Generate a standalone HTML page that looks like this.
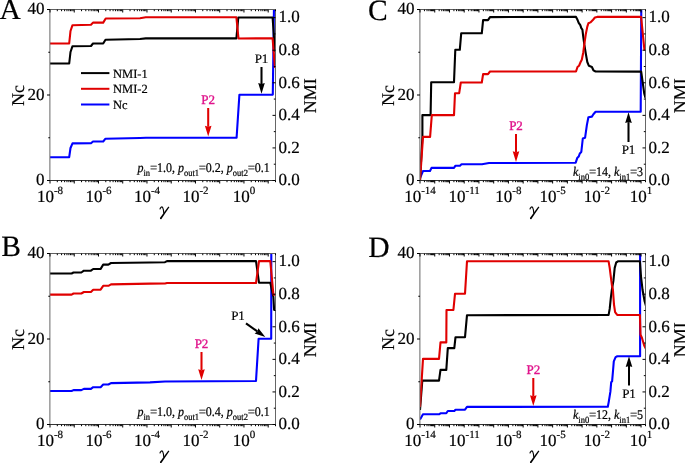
<!DOCTYPE html>
<html><head><meta charset="utf-8"><style>
html,body{margin:0;padding:0;background:#fff;}
svg{display:block;}
#w{width:685px;height:463px;overflow:hidden;will-change:transform;}
text{font-family:"Liberation Serif",serif;stroke:#000;stroke-width:0.2px;text-rendering:geometricPrecision;}
text.mag{stroke:#e0158c;stroke-width:0.35px;}
.eq{fill:#7a7a7a;stroke:#7a7a7a;stroke-width:0.6px;}
</style></head><body><div id="w">
<svg width="685" height="463" viewBox="0 0 685 463" font-family="Liberation Serif">
<rect width="685" height="463" fill="#fff"/>
<clipPath id="cA"><rect x="50" y="9.0" width="226.0" height="171.5"/></clipPath>
<polyline points="50.00,157.20 69.20,157.20 70.50,148.00 72.50,143.40 91.00,143.20 93.00,141.50 103.20,141.50 105.50,138.70 140.00,138.00 146.00,137.80 236.60,137.80 239.40,94.80 272.80,94.60 274.00,5.00" fill="none" stroke="#0000ff" stroke-width="2.1" stroke-linejoin="round" clip-path="url(#cA)"/>
<polyline points="50.00,63.50 69.20,63.50 70.50,52.00 72.50,46.20 91.00,46.00 93.00,43.50 103.20,43.50 105.50,39.80 140.00,39.00 145.80,38.40 236.40,38.40 238.30,17.50 272.60,17.50 275.00,52.00" fill="none" stroke="#000" stroke-width="2.1" stroke-linejoin="round" clip-path="url(#cA)"/>
<polyline points="50.00,43.50 69.20,43.50 70.50,31.00 72.50,25.20 91.00,24.80 93.00,22.60 103.20,22.60 105.70,18.50 140.00,18.20 145.80,17.30 236.40,17.30 238.50,38.50 272.60,38.30 275.00,68.00" fill="none" stroke="#e00000" stroke-width="2.1" stroke-linejoin="round" clip-path="url(#cA)"/>
<line x1="47.00" y1="9.50" x2="276.00" y2="9.50" stroke="#606060" stroke-width="1"/>
<line x1="47.00" y1="180.50" x2="276.00" y2="180.50" stroke="#333" stroke-width="1"/>
<line x1="49.90" y1="9.50" x2="49.90" y2="180.50" stroke="#666" stroke-width="1"/>
<line x1="275.50" y1="9.50" x2="275.50" y2="181.00" stroke="#666" stroke-width="1"/>
<line x1="50.00" y1="180.50" x2="50.00" y2="183.50" stroke="#000" stroke-width="1"/>
<line x1="50.00" y1="9.50" x2="50.00" y2="12.50" stroke="#000" stroke-width="1"/>
<line x1="57.30" y1="180.50" x2="57.30" y2="182.20" stroke="#000" stroke-width="1"/>
<line x1="57.30" y1="9.50" x2="57.30" y2="11.20" stroke="#000" stroke-width="1"/>
<line x1="61.57" y1="180.50" x2="61.57" y2="182.20" stroke="#000" stroke-width="1"/>
<line x1="61.57" y1="9.50" x2="61.57" y2="11.20" stroke="#000" stroke-width="1"/>
<line x1="64.60" y1="180.50" x2="64.60" y2="182.20" stroke="#000" stroke-width="1"/>
<line x1="64.60" y1="9.50" x2="64.60" y2="11.20" stroke="#000" stroke-width="1"/>
<line x1="66.95" y1="180.50" x2="66.95" y2="182.20" stroke="#000" stroke-width="1"/>
<line x1="66.95" y1="9.50" x2="66.95" y2="11.20" stroke="#000" stroke-width="1"/>
<line x1="68.87" y1="180.50" x2="68.87" y2="182.20" stroke="#000" stroke-width="1"/>
<line x1="68.87" y1="9.50" x2="68.87" y2="11.20" stroke="#000" stroke-width="1"/>
<line x1="70.49" y1="180.50" x2="70.49" y2="182.20" stroke="#000" stroke-width="1"/>
<line x1="70.49" y1="9.50" x2="70.49" y2="11.20" stroke="#000" stroke-width="1"/>
<line x1="71.90" y1="180.50" x2="71.90" y2="182.20" stroke="#000" stroke-width="1"/>
<line x1="71.90" y1="9.50" x2="71.90" y2="11.20" stroke="#000" stroke-width="1"/>
<line x1="73.14" y1="180.50" x2="73.14" y2="182.20" stroke="#000" stroke-width="1"/>
<line x1="73.14" y1="9.50" x2="73.14" y2="11.20" stroke="#000" stroke-width="1"/>
<line x1="74.24" y1="180.50" x2="74.24" y2="183.50" stroke="#000" stroke-width="1"/>
<line x1="74.24" y1="9.50" x2="74.24" y2="12.50" stroke="#000" stroke-width="1"/>
<line x1="81.54" y1="180.50" x2="81.54" y2="182.20" stroke="#000" stroke-width="1"/>
<line x1="81.54" y1="9.50" x2="81.54" y2="11.20" stroke="#000" stroke-width="1"/>
<line x1="85.81" y1="180.50" x2="85.81" y2="182.20" stroke="#000" stroke-width="1"/>
<line x1="85.81" y1="9.50" x2="85.81" y2="11.20" stroke="#000" stroke-width="1"/>
<line x1="88.84" y1="180.50" x2="88.84" y2="182.20" stroke="#000" stroke-width="1"/>
<line x1="88.84" y1="9.50" x2="88.84" y2="11.20" stroke="#000" stroke-width="1"/>
<line x1="91.19" y1="180.50" x2="91.19" y2="182.20" stroke="#000" stroke-width="1"/>
<line x1="91.19" y1="9.50" x2="91.19" y2="11.20" stroke="#000" stroke-width="1"/>
<line x1="93.11" y1="180.50" x2="93.11" y2="182.20" stroke="#000" stroke-width="1"/>
<line x1="93.11" y1="9.50" x2="93.11" y2="11.20" stroke="#000" stroke-width="1"/>
<line x1="94.73" y1="180.50" x2="94.73" y2="182.20" stroke="#000" stroke-width="1"/>
<line x1="94.73" y1="9.50" x2="94.73" y2="11.20" stroke="#000" stroke-width="1"/>
<line x1="96.14" y1="180.50" x2="96.14" y2="182.20" stroke="#000" stroke-width="1"/>
<line x1="96.14" y1="9.50" x2="96.14" y2="11.20" stroke="#000" stroke-width="1"/>
<line x1="97.38" y1="180.50" x2="97.38" y2="182.20" stroke="#000" stroke-width="1"/>
<line x1="97.38" y1="9.50" x2="97.38" y2="11.20" stroke="#000" stroke-width="1"/>
<line x1="98.49" y1="180.50" x2="98.49" y2="183.50" stroke="#000" stroke-width="1"/>
<line x1="98.49" y1="9.50" x2="98.49" y2="12.50" stroke="#000" stroke-width="1"/>
<line x1="105.79" y1="180.50" x2="105.79" y2="182.20" stroke="#000" stroke-width="1"/>
<line x1="105.79" y1="9.50" x2="105.79" y2="11.20" stroke="#000" stroke-width="1"/>
<line x1="110.06" y1="180.50" x2="110.06" y2="182.20" stroke="#000" stroke-width="1"/>
<line x1="110.06" y1="9.50" x2="110.06" y2="11.20" stroke="#000" stroke-width="1"/>
<line x1="113.09" y1="180.50" x2="113.09" y2="182.20" stroke="#000" stroke-width="1"/>
<line x1="113.09" y1="9.50" x2="113.09" y2="11.20" stroke="#000" stroke-width="1"/>
<line x1="115.44" y1="180.50" x2="115.44" y2="182.20" stroke="#000" stroke-width="1"/>
<line x1="115.44" y1="9.50" x2="115.44" y2="11.20" stroke="#000" stroke-width="1"/>
<line x1="117.36" y1="180.50" x2="117.36" y2="182.20" stroke="#000" stroke-width="1"/>
<line x1="117.36" y1="9.50" x2="117.36" y2="11.20" stroke="#000" stroke-width="1"/>
<line x1="118.98" y1="180.50" x2="118.98" y2="182.20" stroke="#000" stroke-width="1"/>
<line x1="118.98" y1="9.50" x2="118.98" y2="11.20" stroke="#000" stroke-width="1"/>
<line x1="120.38" y1="180.50" x2="120.38" y2="182.20" stroke="#000" stroke-width="1"/>
<line x1="120.38" y1="9.50" x2="120.38" y2="11.20" stroke="#000" stroke-width="1"/>
<line x1="121.62" y1="180.50" x2="121.62" y2="182.20" stroke="#000" stroke-width="1"/>
<line x1="121.62" y1="9.50" x2="121.62" y2="11.20" stroke="#000" stroke-width="1"/>
<line x1="122.73" y1="180.50" x2="122.73" y2="183.50" stroke="#000" stroke-width="1"/>
<line x1="122.73" y1="9.50" x2="122.73" y2="12.50" stroke="#000" stroke-width="1"/>
<line x1="130.03" y1="180.50" x2="130.03" y2="182.20" stroke="#000" stroke-width="1"/>
<line x1="130.03" y1="9.50" x2="130.03" y2="11.20" stroke="#000" stroke-width="1"/>
<line x1="134.30" y1="180.50" x2="134.30" y2="182.20" stroke="#000" stroke-width="1"/>
<line x1="134.30" y1="9.50" x2="134.30" y2="11.20" stroke="#000" stroke-width="1"/>
<line x1="137.33" y1="180.50" x2="137.33" y2="182.20" stroke="#000" stroke-width="1"/>
<line x1="137.33" y1="9.50" x2="137.33" y2="11.20" stroke="#000" stroke-width="1"/>
<line x1="139.68" y1="180.50" x2="139.68" y2="182.20" stroke="#000" stroke-width="1"/>
<line x1="139.68" y1="9.50" x2="139.68" y2="11.20" stroke="#000" stroke-width="1"/>
<line x1="141.60" y1="180.50" x2="141.60" y2="182.20" stroke="#000" stroke-width="1"/>
<line x1="141.60" y1="9.50" x2="141.60" y2="11.20" stroke="#000" stroke-width="1"/>
<line x1="143.22" y1="180.50" x2="143.22" y2="182.20" stroke="#000" stroke-width="1"/>
<line x1="143.22" y1="9.50" x2="143.22" y2="11.20" stroke="#000" stroke-width="1"/>
<line x1="144.63" y1="180.50" x2="144.63" y2="182.20" stroke="#000" stroke-width="1"/>
<line x1="144.63" y1="9.50" x2="144.63" y2="11.20" stroke="#000" stroke-width="1"/>
<line x1="145.87" y1="180.50" x2="145.87" y2="182.20" stroke="#000" stroke-width="1"/>
<line x1="145.87" y1="9.50" x2="145.87" y2="11.20" stroke="#000" stroke-width="1"/>
<line x1="146.98" y1="180.50" x2="146.98" y2="183.50" stroke="#000" stroke-width="1"/>
<line x1="146.98" y1="9.50" x2="146.98" y2="12.50" stroke="#000" stroke-width="1"/>
<line x1="154.28" y1="180.50" x2="154.28" y2="182.20" stroke="#000" stroke-width="1"/>
<line x1="154.28" y1="9.50" x2="154.28" y2="11.20" stroke="#000" stroke-width="1"/>
<line x1="158.55" y1="180.50" x2="158.55" y2="182.20" stroke="#000" stroke-width="1"/>
<line x1="158.55" y1="9.50" x2="158.55" y2="11.20" stroke="#000" stroke-width="1"/>
<line x1="161.58" y1="180.50" x2="161.58" y2="182.20" stroke="#000" stroke-width="1"/>
<line x1="161.58" y1="9.50" x2="161.58" y2="11.20" stroke="#000" stroke-width="1"/>
<line x1="163.92" y1="180.50" x2="163.92" y2="182.20" stroke="#000" stroke-width="1"/>
<line x1="163.92" y1="9.50" x2="163.92" y2="11.20" stroke="#000" stroke-width="1"/>
<line x1="165.84" y1="180.50" x2="165.84" y2="182.20" stroke="#000" stroke-width="1"/>
<line x1="165.84" y1="9.50" x2="165.84" y2="11.20" stroke="#000" stroke-width="1"/>
<line x1="167.47" y1="180.50" x2="167.47" y2="182.20" stroke="#000" stroke-width="1"/>
<line x1="167.47" y1="9.50" x2="167.47" y2="11.20" stroke="#000" stroke-width="1"/>
<line x1="168.87" y1="180.50" x2="168.87" y2="182.20" stroke="#000" stroke-width="1"/>
<line x1="168.87" y1="9.50" x2="168.87" y2="11.20" stroke="#000" stroke-width="1"/>
<line x1="170.11" y1="180.50" x2="170.11" y2="182.20" stroke="#000" stroke-width="1"/>
<line x1="170.11" y1="9.50" x2="170.11" y2="11.20" stroke="#000" stroke-width="1"/>
<line x1="171.22" y1="180.50" x2="171.22" y2="183.50" stroke="#000" stroke-width="1"/>
<line x1="171.22" y1="9.50" x2="171.22" y2="12.50" stroke="#000" stroke-width="1"/>
<line x1="178.52" y1="180.50" x2="178.52" y2="182.20" stroke="#000" stroke-width="1"/>
<line x1="178.52" y1="9.50" x2="178.52" y2="11.20" stroke="#000" stroke-width="1"/>
<line x1="182.79" y1="180.50" x2="182.79" y2="182.20" stroke="#000" stroke-width="1"/>
<line x1="182.79" y1="9.50" x2="182.79" y2="11.20" stroke="#000" stroke-width="1"/>
<line x1="185.82" y1="180.50" x2="185.82" y2="182.20" stroke="#000" stroke-width="1"/>
<line x1="185.82" y1="9.50" x2="185.82" y2="11.20" stroke="#000" stroke-width="1"/>
<line x1="188.17" y1="180.50" x2="188.17" y2="182.20" stroke="#000" stroke-width="1"/>
<line x1="188.17" y1="9.50" x2="188.17" y2="11.20" stroke="#000" stroke-width="1"/>
<line x1="190.09" y1="180.50" x2="190.09" y2="182.20" stroke="#000" stroke-width="1"/>
<line x1="190.09" y1="9.50" x2="190.09" y2="11.20" stroke="#000" stroke-width="1"/>
<line x1="191.71" y1="180.50" x2="191.71" y2="182.20" stroke="#000" stroke-width="1"/>
<line x1="191.71" y1="9.50" x2="191.71" y2="11.20" stroke="#000" stroke-width="1"/>
<line x1="193.12" y1="180.50" x2="193.12" y2="182.20" stroke="#000" stroke-width="1"/>
<line x1="193.12" y1="9.50" x2="193.12" y2="11.20" stroke="#000" stroke-width="1"/>
<line x1="194.36" y1="180.50" x2="194.36" y2="182.20" stroke="#000" stroke-width="1"/>
<line x1="194.36" y1="9.50" x2="194.36" y2="11.20" stroke="#000" stroke-width="1"/>
<line x1="195.47" y1="180.50" x2="195.47" y2="183.50" stroke="#000" stroke-width="1"/>
<line x1="195.47" y1="9.50" x2="195.47" y2="12.50" stroke="#000" stroke-width="1"/>
<line x1="202.77" y1="180.50" x2="202.77" y2="182.20" stroke="#000" stroke-width="1"/>
<line x1="202.77" y1="9.50" x2="202.77" y2="11.20" stroke="#000" stroke-width="1"/>
<line x1="207.04" y1="180.50" x2="207.04" y2="182.20" stroke="#000" stroke-width="1"/>
<line x1="207.04" y1="9.50" x2="207.04" y2="11.20" stroke="#000" stroke-width="1"/>
<line x1="210.06" y1="180.50" x2="210.06" y2="182.20" stroke="#000" stroke-width="1"/>
<line x1="210.06" y1="9.50" x2="210.06" y2="11.20" stroke="#000" stroke-width="1"/>
<line x1="212.41" y1="180.50" x2="212.41" y2="182.20" stroke="#000" stroke-width="1"/>
<line x1="212.41" y1="9.50" x2="212.41" y2="11.20" stroke="#000" stroke-width="1"/>
<line x1="214.33" y1="180.50" x2="214.33" y2="182.20" stroke="#000" stroke-width="1"/>
<line x1="214.33" y1="9.50" x2="214.33" y2="11.20" stroke="#000" stroke-width="1"/>
<line x1="215.96" y1="180.50" x2="215.96" y2="182.20" stroke="#000" stroke-width="1"/>
<line x1="215.96" y1="9.50" x2="215.96" y2="11.20" stroke="#000" stroke-width="1"/>
<line x1="217.36" y1="180.50" x2="217.36" y2="182.20" stroke="#000" stroke-width="1"/>
<line x1="217.36" y1="9.50" x2="217.36" y2="11.20" stroke="#000" stroke-width="1"/>
<line x1="218.60" y1="180.50" x2="218.60" y2="182.20" stroke="#000" stroke-width="1"/>
<line x1="218.60" y1="9.50" x2="218.60" y2="11.20" stroke="#000" stroke-width="1"/>
<line x1="219.71" y1="180.50" x2="219.71" y2="183.50" stroke="#000" stroke-width="1"/>
<line x1="219.71" y1="9.50" x2="219.71" y2="12.50" stroke="#000" stroke-width="1"/>
<line x1="227.01" y1="180.50" x2="227.01" y2="182.20" stroke="#000" stroke-width="1"/>
<line x1="227.01" y1="9.50" x2="227.01" y2="11.20" stroke="#000" stroke-width="1"/>
<line x1="231.28" y1="180.50" x2="231.28" y2="182.20" stroke="#000" stroke-width="1"/>
<line x1="231.28" y1="9.50" x2="231.28" y2="11.20" stroke="#000" stroke-width="1"/>
<line x1="234.31" y1="180.50" x2="234.31" y2="182.20" stroke="#000" stroke-width="1"/>
<line x1="234.31" y1="9.50" x2="234.31" y2="11.20" stroke="#000" stroke-width="1"/>
<line x1="236.66" y1="180.50" x2="236.66" y2="182.20" stroke="#000" stroke-width="1"/>
<line x1="236.66" y1="9.50" x2="236.66" y2="11.20" stroke="#000" stroke-width="1"/>
<line x1="238.58" y1="180.50" x2="238.58" y2="182.20" stroke="#000" stroke-width="1"/>
<line x1="238.58" y1="9.50" x2="238.58" y2="11.20" stroke="#000" stroke-width="1"/>
<line x1="240.20" y1="180.50" x2="240.20" y2="182.20" stroke="#000" stroke-width="1"/>
<line x1="240.20" y1="9.50" x2="240.20" y2="11.20" stroke="#000" stroke-width="1"/>
<line x1="241.61" y1="180.50" x2="241.61" y2="182.20" stroke="#000" stroke-width="1"/>
<line x1="241.61" y1="9.50" x2="241.61" y2="11.20" stroke="#000" stroke-width="1"/>
<line x1="242.85" y1="180.50" x2="242.85" y2="182.20" stroke="#000" stroke-width="1"/>
<line x1="242.85" y1="9.50" x2="242.85" y2="11.20" stroke="#000" stroke-width="1"/>
<line x1="243.96" y1="180.50" x2="243.96" y2="183.50" stroke="#000" stroke-width="1"/>
<line x1="243.96" y1="9.50" x2="243.96" y2="12.50" stroke="#000" stroke-width="1"/>
<line x1="251.26" y1="180.50" x2="251.26" y2="182.20" stroke="#000" stroke-width="1"/>
<line x1="251.26" y1="9.50" x2="251.26" y2="11.20" stroke="#000" stroke-width="1"/>
<line x1="255.52" y1="180.50" x2="255.52" y2="182.20" stroke="#000" stroke-width="1"/>
<line x1="255.52" y1="9.50" x2="255.52" y2="11.20" stroke="#000" stroke-width="1"/>
<line x1="258.55" y1="180.50" x2="258.55" y2="182.20" stroke="#000" stroke-width="1"/>
<line x1="258.55" y1="9.50" x2="258.55" y2="11.20" stroke="#000" stroke-width="1"/>
<line x1="260.90" y1="180.50" x2="260.90" y2="182.20" stroke="#000" stroke-width="1"/>
<line x1="260.90" y1="9.50" x2="260.90" y2="11.20" stroke="#000" stroke-width="1"/>
<line x1="262.82" y1="180.50" x2="262.82" y2="182.20" stroke="#000" stroke-width="1"/>
<line x1="262.82" y1="9.50" x2="262.82" y2="11.20" stroke="#000" stroke-width="1"/>
<line x1="264.45" y1="180.50" x2="264.45" y2="182.20" stroke="#000" stroke-width="1"/>
<line x1="264.45" y1="9.50" x2="264.45" y2="11.20" stroke="#000" stroke-width="1"/>
<line x1="265.85" y1="180.50" x2="265.85" y2="182.20" stroke="#000" stroke-width="1"/>
<line x1="265.85" y1="9.50" x2="265.85" y2="11.20" stroke="#000" stroke-width="1"/>
<line x1="267.09" y1="180.50" x2="267.09" y2="182.20" stroke="#000" stroke-width="1"/>
<line x1="267.09" y1="9.50" x2="267.09" y2="11.20" stroke="#000" stroke-width="1"/>
<line x1="268.20" y1="180.50" x2="268.20" y2="183.50" stroke="#000" stroke-width="1"/>
<line x1="268.20" y1="9.50" x2="268.20" y2="12.50" stroke="#000" stroke-width="1"/>
<line x1="275.50" y1="180.50" x2="275.50" y2="182.20" stroke="#000" stroke-width="1"/>
<line x1="275.50" y1="9.50" x2="275.50" y2="11.20" stroke="#000" stroke-width="1"/>
<line x1="47.00" y1="180.50" x2="50.00" y2="180.50" stroke="#000" stroke-width="1"/>
<line x1="48.30" y1="137.75" x2="50.00" y2="137.75" stroke="#000" stroke-width="1"/>
<line x1="47.00" y1="95.00" x2="50.00" y2="95.00" stroke="#000" stroke-width="1"/>
<line x1="48.30" y1="52.25" x2="50.00" y2="52.25" stroke="#000" stroke-width="1"/>
<line x1="47.00" y1="9.50" x2="50.00" y2="9.50" stroke="#000" stroke-width="1"/>
<line x1="272.50" y1="180.50" x2="275.50" y2="180.50" stroke="#000" stroke-width="1"/>
<line x1="273.80" y1="164.21" x2="275.50" y2="164.21" stroke="#000" stroke-width="1"/>
<line x1="272.50" y1="147.93" x2="275.50" y2="147.93" stroke="#000" stroke-width="1"/>
<line x1="273.80" y1="131.64" x2="275.50" y2="131.64" stroke="#000" stroke-width="1"/>
<line x1="272.50" y1="115.36" x2="275.50" y2="115.36" stroke="#000" stroke-width="1"/>
<line x1="273.80" y1="99.07" x2="275.50" y2="99.07" stroke="#000" stroke-width="1"/>
<line x1="272.50" y1="82.79" x2="275.50" y2="82.79" stroke="#000" stroke-width="1"/>
<line x1="273.80" y1="66.50" x2="275.50" y2="66.50" stroke="#000" stroke-width="1"/>
<line x1="272.50" y1="50.21" x2="275.50" y2="50.21" stroke="#000" stroke-width="1"/>
<line x1="273.80" y1="33.93" x2="275.50" y2="33.93" stroke="#000" stroke-width="1"/>
<line x1="272.50" y1="17.64" x2="275.50" y2="17.64" stroke="#000" stroke-width="1"/>
<text x="50.00" y="202.20" font-size="17" text-anchor="middle">10<tspan font-size="11" dy="-8.1">-8</tspan></text>
<text x="98.49" y="202.20" font-size="17" text-anchor="middle">10<tspan font-size="11" dy="-8.1">-6</tspan></text>
<text x="146.98" y="202.20" font-size="17" text-anchor="middle">10<tspan font-size="11" dy="-8.1">-4</tspan></text>
<text x="195.47" y="202.20" font-size="17" text-anchor="middle">10<tspan font-size="11" dy="-8.1">-2</tspan></text>
<text x="243.96" y="202.20" font-size="17" text-anchor="middle">10<tspan font-size="11" dy="-8.1">0</tspan></text>
<text x="44.50" y="185.30" font-size="17" text-anchor="end" fill="#000" >0</text>
<text x="44.50" y="99.80" font-size="17" text-anchor="end" fill="#000" >20</text>
<text x="44.50" y="14.30" font-size="17" text-anchor="end" fill="#000" >40</text>
<text x="278.50" y="185.30" font-size="17" text-anchor="start" fill="#000" >0.0</text>
<text x="278.50" y="152.73" font-size="17" text-anchor="start" fill="#000" >0.2</text>
<text x="278.50" y="120.16" font-size="17" text-anchor="start" fill="#000" >0.4</text>
<text x="278.50" y="87.59" font-size="17" text-anchor="start" fill="#000" >0.6</text>
<text x="278.50" y="55.01" font-size="17" text-anchor="start" fill="#000" >0.8</text>
<text x="278.50" y="22.44" font-size="17" text-anchor="start" fill="#000" >1.0</text>
<g transform="translate(0.05,0.00)"><polygon points="168.3,206.5 169.3,207.2 162.2,217.8 161.2,219.2 159.9,219.0 160.2,217.5" fill="#000"/><path d="M159.8,209.3 C160.3,207.2 161.8,206.3 162.6,207.5 C163.3,208.8 163.6,211 163.8,213.5" stroke="#000" stroke-width="1.1" fill="none"/></g>
<text transform="translate(24.00,95.45) rotate(-90)" font-size="18" text-anchor="middle">Nc</text>
<text transform="translate(315.80,95.85) rotate(-90)" font-size="18" text-anchor="middle">NMI</text>
<text x="-0.40" y="19.00" font-size="29.5" text-anchor="start" fill="#000" >A</text>
<text x="137.50" y="172.20" font-size="12" transform="matrix(1 0 0 1.1100 0 -18.942)"><tspan font-style="italic">p</tspan><tspan font-size="8.5" dy="3.5">in</tspan><tspan dy="-3.5" class="eq">=</tspan><tspan>1.0, </tspan><tspan font-style="italic">p</tspan><tspan font-size="8.5" dy="3.5">out1</tspan><tspan dy="-3.5" class="eq">=</tspan><tspan>0.2, </tspan><tspan font-style="italic">p</tspan><tspan font-size="8.5" dy="3.5">out2</tspan><tspan dy="-3.5" class="eq">=</tspan><tspan>0.1</tspan></text>
<text x="208.20" y="104.00" font-size="13" text-anchor="middle" fill="#e0158c" class="mag">P2</text>
<line x1="208.20" y1="108.00" x2="208.20" y2="126.80" stroke="#e00000" stroke-width="2.05"/>
<polygon points="208.20,136.60 204.90,125.80 208.20,126.80 211.50,125.80" fill="#e00000"/>
<text x="261.50" y="62.50" font-size="13" text-anchor="middle" fill="#000" >P1</text>
<line x1="261.50" y1="67.00" x2="261.50" y2="84.00" stroke="#000" stroke-width="2.05"/>
<polygon points="261.50,93.80 258.20,83.00 261.50,84.00 264.80,83.00" fill="#000"/>
<clipPath id="cB"><rect x="50" y="253.0" width="226.0" height="171.5"/></clipPath>
<polyline points="50.00,391.00 71.60,391.00 73.50,390.10 81.30,390.10 83.90,388.90 90.90,388.90 93.20,387.20 100.60,387.20 103.20,384.50 108.40,384.50 111.00,383.10 150.00,382.40 165.00,381.50 256.00,381.00 258.60,338.70 271.20,338.70 271.30,250.00" fill="none" stroke="#0000ff" stroke-width="2.1" stroke-linejoin="round" clip-path="url(#cB)"/>
<polyline points="50.00,273.50 71.60,273.50 73.50,272.50 81.30,272.50 83.90,270.70 90.90,270.70 93.20,269.00 100.60,269.00 103.20,264.60 108.40,264.60 111.00,263.00 149.60,262.50 165.00,262.20 167.00,261.10 256.00,261.10 259.00,282.70 270.30,282.70 273.40,297.00 274.10,309.80 276.00,309.80" fill="none" stroke="#000" stroke-width="2.1" stroke-linejoin="round" clip-path="url(#cB)"/>
<polyline points="50.00,294.60 71.60,294.60 73.50,293.50 81.30,293.50 83.90,292.00 90.90,292.00 93.20,289.70 100.60,289.70 103.20,285.80 108.40,285.80 111.00,284.40 150.00,283.60 165.00,283.50 167.00,283.00 256.00,283.00 259.00,261.10 270.30,261.10 273.40,294.70 276.00,294.70" fill="none" stroke="#e00000" stroke-width="2.1" stroke-linejoin="round" clip-path="url(#cB)"/>
<line x1="47.00" y1="253.50" x2="276.00" y2="253.50" stroke="#606060" stroke-width="1"/>
<line x1="47.00" y1="424.50" x2="276.00" y2="424.50" stroke="#333" stroke-width="1"/>
<line x1="49.90" y1="253.50" x2="49.90" y2="424.50" stroke="#666" stroke-width="1"/>
<line x1="275.50" y1="253.50" x2="275.50" y2="425.00" stroke="#666" stroke-width="1"/>
<line x1="50.00" y1="424.50" x2="50.00" y2="427.50" stroke="#000" stroke-width="1"/>
<line x1="50.00" y1="253.50" x2="50.00" y2="256.50" stroke="#000" stroke-width="1"/>
<line x1="57.30" y1="424.50" x2="57.30" y2="426.20" stroke="#000" stroke-width="1"/>
<line x1="57.30" y1="253.50" x2="57.30" y2="255.20" stroke="#000" stroke-width="1"/>
<line x1="61.57" y1="424.50" x2="61.57" y2="426.20" stroke="#000" stroke-width="1"/>
<line x1="61.57" y1="253.50" x2="61.57" y2="255.20" stroke="#000" stroke-width="1"/>
<line x1="64.60" y1="424.50" x2="64.60" y2="426.20" stroke="#000" stroke-width="1"/>
<line x1="64.60" y1="253.50" x2="64.60" y2="255.20" stroke="#000" stroke-width="1"/>
<line x1="66.95" y1="424.50" x2="66.95" y2="426.20" stroke="#000" stroke-width="1"/>
<line x1="66.95" y1="253.50" x2="66.95" y2="255.20" stroke="#000" stroke-width="1"/>
<line x1="68.87" y1="424.50" x2="68.87" y2="426.20" stroke="#000" stroke-width="1"/>
<line x1="68.87" y1="253.50" x2="68.87" y2="255.20" stroke="#000" stroke-width="1"/>
<line x1="70.49" y1="424.50" x2="70.49" y2="426.20" stroke="#000" stroke-width="1"/>
<line x1="70.49" y1="253.50" x2="70.49" y2="255.20" stroke="#000" stroke-width="1"/>
<line x1="71.90" y1="424.50" x2="71.90" y2="426.20" stroke="#000" stroke-width="1"/>
<line x1="71.90" y1="253.50" x2="71.90" y2="255.20" stroke="#000" stroke-width="1"/>
<line x1="73.14" y1="424.50" x2="73.14" y2="426.20" stroke="#000" stroke-width="1"/>
<line x1="73.14" y1="253.50" x2="73.14" y2="255.20" stroke="#000" stroke-width="1"/>
<line x1="74.24" y1="424.50" x2="74.24" y2="427.50" stroke="#000" stroke-width="1"/>
<line x1="74.24" y1="253.50" x2="74.24" y2="256.50" stroke="#000" stroke-width="1"/>
<line x1="81.54" y1="424.50" x2="81.54" y2="426.20" stroke="#000" stroke-width="1"/>
<line x1="81.54" y1="253.50" x2="81.54" y2="255.20" stroke="#000" stroke-width="1"/>
<line x1="85.81" y1="424.50" x2="85.81" y2="426.20" stroke="#000" stroke-width="1"/>
<line x1="85.81" y1="253.50" x2="85.81" y2="255.20" stroke="#000" stroke-width="1"/>
<line x1="88.84" y1="424.50" x2="88.84" y2="426.20" stroke="#000" stroke-width="1"/>
<line x1="88.84" y1="253.50" x2="88.84" y2="255.20" stroke="#000" stroke-width="1"/>
<line x1="91.19" y1="424.50" x2="91.19" y2="426.20" stroke="#000" stroke-width="1"/>
<line x1="91.19" y1="253.50" x2="91.19" y2="255.20" stroke="#000" stroke-width="1"/>
<line x1="93.11" y1="424.50" x2="93.11" y2="426.20" stroke="#000" stroke-width="1"/>
<line x1="93.11" y1="253.50" x2="93.11" y2="255.20" stroke="#000" stroke-width="1"/>
<line x1="94.73" y1="424.50" x2="94.73" y2="426.20" stroke="#000" stroke-width="1"/>
<line x1="94.73" y1="253.50" x2="94.73" y2="255.20" stroke="#000" stroke-width="1"/>
<line x1="96.14" y1="424.50" x2="96.14" y2="426.20" stroke="#000" stroke-width="1"/>
<line x1="96.14" y1="253.50" x2="96.14" y2="255.20" stroke="#000" stroke-width="1"/>
<line x1="97.38" y1="424.50" x2="97.38" y2="426.20" stroke="#000" stroke-width="1"/>
<line x1="97.38" y1="253.50" x2="97.38" y2="255.20" stroke="#000" stroke-width="1"/>
<line x1="98.49" y1="424.50" x2="98.49" y2="427.50" stroke="#000" stroke-width="1"/>
<line x1="98.49" y1="253.50" x2="98.49" y2="256.50" stroke="#000" stroke-width="1"/>
<line x1="105.79" y1="424.50" x2="105.79" y2="426.20" stroke="#000" stroke-width="1"/>
<line x1="105.79" y1="253.50" x2="105.79" y2="255.20" stroke="#000" stroke-width="1"/>
<line x1="110.06" y1="424.50" x2="110.06" y2="426.20" stroke="#000" stroke-width="1"/>
<line x1="110.06" y1="253.50" x2="110.06" y2="255.20" stroke="#000" stroke-width="1"/>
<line x1="113.09" y1="424.50" x2="113.09" y2="426.20" stroke="#000" stroke-width="1"/>
<line x1="113.09" y1="253.50" x2="113.09" y2="255.20" stroke="#000" stroke-width="1"/>
<line x1="115.44" y1="424.50" x2="115.44" y2="426.20" stroke="#000" stroke-width="1"/>
<line x1="115.44" y1="253.50" x2="115.44" y2="255.20" stroke="#000" stroke-width="1"/>
<line x1="117.36" y1="424.50" x2="117.36" y2="426.20" stroke="#000" stroke-width="1"/>
<line x1="117.36" y1="253.50" x2="117.36" y2="255.20" stroke="#000" stroke-width="1"/>
<line x1="118.98" y1="424.50" x2="118.98" y2="426.20" stroke="#000" stroke-width="1"/>
<line x1="118.98" y1="253.50" x2="118.98" y2="255.20" stroke="#000" stroke-width="1"/>
<line x1="120.38" y1="424.50" x2="120.38" y2="426.20" stroke="#000" stroke-width="1"/>
<line x1="120.38" y1="253.50" x2="120.38" y2="255.20" stroke="#000" stroke-width="1"/>
<line x1="121.62" y1="424.50" x2="121.62" y2="426.20" stroke="#000" stroke-width="1"/>
<line x1="121.62" y1="253.50" x2="121.62" y2="255.20" stroke="#000" stroke-width="1"/>
<line x1="122.73" y1="424.50" x2="122.73" y2="427.50" stroke="#000" stroke-width="1"/>
<line x1="122.73" y1="253.50" x2="122.73" y2="256.50" stroke="#000" stroke-width="1"/>
<line x1="130.03" y1="424.50" x2="130.03" y2="426.20" stroke="#000" stroke-width="1"/>
<line x1="130.03" y1="253.50" x2="130.03" y2="255.20" stroke="#000" stroke-width="1"/>
<line x1="134.30" y1="424.50" x2="134.30" y2="426.20" stroke="#000" stroke-width="1"/>
<line x1="134.30" y1="253.50" x2="134.30" y2="255.20" stroke="#000" stroke-width="1"/>
<line x1="137.33" y1="424.50" x2="137.33" y2="426.20" stroke="#000" stroke-width="1"/>
<line x1="137.33" y1="253.50" x2="137.33" y2="255.20" stroke="#000" stroke-width="1"/>
<line x1="139.68" y1="424.50" x2="139.68" y2="426.20" stroke="#000" stroke-width="1"/>
<line x1="139.68" y1="253.50" x2="139.68" y2="255.20" stroke="#000" stroke-width="1"/>
<line x1="141.60" y1="424.50" x2="141.60" y2="426.20" stroke="#000" stroke-width="1"/>
<line x1="141.60" y1="253.50" x2="141.60" y2="255.20" stroke="#000" stroke-width="1"/>
<line x1="143.22" y1="424.50" x2="143.22" y2="426.20" stroke="#000" stroke-width="1"/>
<line x1="143.22" y1="253.50" x2="143.22" y2="255.20" stroke="#000" stroke-width="1"/>
<line x1="144.63" y1="424.50" x2="144.63" y2="426.20" stroke="#000" stroke-width="1"/>
<line x1="144.63" y1="253.50" x2="144.63" y2="255.20" stroke="#000" stroke-width="1"/>
<line x1="145.87" y1="424.50" x2="145.87" y2="426.20" stroke="#000" stroke-width="1"/>
<line x1="145.87" y1="253.50" x2="145.87" y2="255.20" stroke="#000" stroke-width="1"/>
<line x1="146.98" y1="424.50" x2="146.98" y2="427.50" stroke="#000" stroke-width="1"/>
<line x1="146.98" y1="253.50" x2="146.98" y2="256.50" stroke="#000" stroke-width="1"/>
<line x1="154.28" y1="424.50" x2="154.28" y2="426.20" stroke="#000" stroke-width="1"/>
<line x1="154.28" y1="253.50" x2="154.28" y2="255.20" stroke="#000" stroke-width="1"/>
<line x1="158.55" y1="424.50" x2="158.55" y2="426.20" stroke="#000" stroke-width="1"/>
<line x1="158.55" y1="253.50" x2="158.55" y2="255.20" stroke="#000" stroke-width="1"/>
<line x1="161.58" y1="424.50" x2="161.58" y2="426.20" stroke="#000" stroke-width="1"/>
<line x1="161.58" y1="253.50" x2="161.58" y2="255.20" stroke="#000" stroke-width="1"/>
<line x1="163.92" y1="424.50" x2="163.92" y2="426.20" stroke="#000" stroke-width="1"/>
<line x1="163.92" y1="253.50" x2="163.92" y2="255.20" stroke="#000" stroke-width="1"/>
<line x1="165.84" y1="424.50" x2="165.84" y2="426.20" stroke="#000" stroke-width="1"/>
<line x1="165.84" y1="253.50" x2="165.84" y2="255.20" stroke="#000" stroke-width="1"/>
<line x1="167.47" y1="424.50" x2="167.47" y2="426.20" stroke="#000" stroke-width="1"/>
<line x1="167.47" y1="253.50" x2="167.47" y2="255.20" stroke="#000" stroke-width="1"/>
<line x1="168.87" y1="424.50" x2="168.87" y2="426.20" stroke="#000" stroke-width="1"/>
<line x1="168.87" y1="253.50" x2="168.87" y2="255.20" stroke="#000" stroke-width="1"/>
<line x1="170.11" y1="424.50" x2="170.11" y2="426.20" stroke="#000" stroke-width="1"/>
<line x1="170.11" y1="253.50" x2="170.11" y2="255.20" stroke="#000" stroke-width="1"/>
<line x1="171.22" y1="424.50" x2="171.22" y2="427.50" stroke="#000" stroke-width="1"/>
<line x1="171.22" y1="253.50" x2="171.22" y2="256.50" stroke="#000" stroke-width="1"/>
<line x1="178.52" y1="424.50" x2="178.52" y2="426.20" stroke="#000" stroke-width="1"/>
<line x1="178.52" y1="253.50" x2="178.52" y2="255.20" stroke="#000" stroke-width="1"/>
<line x1="182.79" y1="424.50" x2="182.79" y2="426.20" stroke="#000" stroke-width="1"/>
<line x1="182.79" y1="253.50" x2="182.79" y2="255.20" stroke="#000" stroke-width="1"/>
<line x1="185.82" y1="424.50" x2="185.82" y2="426.20" stroke="#000" stroke-width="1"/>
<line x1="185.82" y1="253.50" x2="185.82" y2="255.20" stroke="#000" stroke-width="1"/>
<line x1="188.17" y1="424.50" x2="188.17" y2="426.20" stroke="#000" stroke-width="1"/>
<line x1="188.17" y1="253.50" x2="188.17" y2="255.20" stroke="#000" stroke-width="1"/>
<line x1="190.09" y1="424.50" x2="190.09" y2="426.20" stroke="#000" stroke-width="1"/>
<line x1="190.09" y1="253.50" x2="190.09" y2="255.20" stroke="#000" stroke-width="1"/>
<line x1="191.71" y1="424.50" x2="191.71" y2="426.20" stroke="#000" stroke-width="1"/>
<line x1="191.71" y1="253.50" x2="191.71" y2="255.20" stroke="#000" stroke-width="1"/>
<line x1="193.12" y1="424.50" x2="193.12" y2="426.20" stroke="#000" stroke-width="1"/>
<line x1="193.12" y1="253.50" x2="193.12" y2="255.20" stroke="#000" stroke-width="1"/>
<line x1="194.36" y1="424.50" x2="194.36" y2="426.20" stroke="#000" stroke-width="1"/>
<line x1="194.36" y1="253.50" x2="194.36" y2="255.20" stroke="#000" stroke-width="1"/>
<line x1="195.47" y1="424.50" x2="195.47" y2="427.50" stroke="#000" stroke-width="1"/>
<line x1="195.47" y1="253.50" x2="195.47" y2="256.50" stroke="#000" stroke-width="1"/>
<line x1="202.77" y1="424.50" x2="202.77" y2="426.20" stroke="#000" stroke-width="1"/>
<line x1="202.77" y1="253.50" x2="202.77" y2="255.20" stroke="#000" stroke-width="1"/>
<line x1="207.04" y1="424.50" x2="207.04" y2="426.20" stroke="#000" stroke-width="1"/>
<line x1="207.04" y1="253.50" x2="207.04" y2="255.20" stroke="#000" stroke-width="1"/>
<line x1="210.06" y1="424.50" x2="210.06" y2="426.20" stroke="#000" stroke-width="1"/>
<line x1="210.06" y1="253.50" x2="210.06" y2="255.20" stroke="#000" stroke-width="1"/>
<line x1="212.41" y1="424.50" x2="212.41" y2="426.20" stroke="#000" stroke-width="1"/>
<line x1="212.41" y1="253.50" x2="212.41" y2="255.20" stroke="#000" stroke-width="1"/>
<line x1="214.33" y1="424.50" x2="214.33" y2="426.20" stroke="#000" stroke-width="1"/>
<line x1="214.33" y1="253.50" x2="214.33" y2="255.20" stroke="#000" stroke-width="1"/>
<line x1="215.96" y1="424.50" x2="215.96" y2="426.20" stroke="#000" stroke-width="1"/>
<line x1="215.96" y1="253.50" x2="215.96" y2="255.20" stroke="#000" stroke-width="1"/>
<line x1="217.36" y1="424.50" x2="217.36" y2="426.20" stroke="#000" stroke-width="1"/>
<line x1="217.36" y1="253.50" x2="217.36" y2="255.20" stroke="#000" stroke-width="1"/>
<line x1="218.60" y1="424.50" x2="218.60" y2="426.20" stroke="#000" stroke-width="1"/>
<line x1="218.60" y1="253.50" x2="218.60" y2="255.20" stroke="#000" stroke-width="1"/>
<line x1="219.71" y1="424.50" x2="219.71" y2="427.50" stroke="#000" stroke-width="1"/>
<line x1="219.71" y1="253.50" x2="219.71" y2="256.50" stroke="#000" stroke-width="1"/>
<line x1="227.01" y1="424.50" x2="227.01" y2="426.20" stroke="#000" stroke-width="1"/>
<line x1="227.01" y1="253.50" x2="227.01" y2="255.20" stroke="#000" stroke-width="1"/>
<line x1="231.28" y1="424.50" x2="231.28" y2="426.20" stroke="#000" stroke-width="1"/>
<line x1="231.28" y1="253.50" x2="231.28" y2="255.20" stroke="#000" stroke-width="1"/>
<line x1="234.31" y1="424.50" x2="234.31" y2="426.20" stroke="#000" stroke-width="1"/>
<line x1="234.31" y1="253.50" x2="234.31" y2="255.20" stroke="#000" stroke-width="1"/>
<line x1="236.66" y1="424.50" x2="236.66" y2="426.20" stroke="#000" stroke-width="1"/>
<line x1="236.66" y1="253.50" x2="236.66" y2="255.20" stroke="#000" stroke-width="1"/>
<line x1="238.58" y1="424.50" x2="238.58" y2="426.20" stroke="#000" stroke-width="1"/>
<line x1="238.58" y1="253.50" x2="238.58" y2="255.20" stroke="#000" stroke-width="1"/>
<line x1="240.20" y1="424.50" x2="240.20" y2="426.20" stroke="#000" stroke-width="1"/>
<line x1="240.20" y1="253.50" x2="240.20" y2="255.20" stroke="#000" stroke-width="1"/>
<line x1="241.61" y1="424.50" x2="241.61" y2="426.20" stroke="#000" stroke-width="1"/>
<line x1="241.61" y1="253.50" x2="241.61" y2="255.20" stroke="#000" stroke-width="1"/>
<line x1="242.85" y1="424.50" x2="242.85" y2="426.20" stroke="#000" stroke-width="1"/>
<line x1="242.85" y1="253.50" x2="242.85" y2="255.20" stroke="#000" stroke-width="1"/>
<line x1="243.96" y1="424.50" x2="243.96" y2="427.50" stroke="#000" stroke-width="1"/>
<line x1="243.96" y1="253.50" x2="243.96" y2="256.50" stroke="#000" stroke-width="1"/>
<line x1="251.26" y1="424.50" x2="251.26" y2="426.20" stroke="#000" stroke-width="1"/>
<line x1="251.26" y1="253.50" x2="251.26" y2="255.20" stroke="#000" stroke-width="1"/>
<line x1="255.52" y1="424.50" x2="255.52" y2="426.20" stroke="#000" stroke-width="1"/>
<line x1="255.52" y1="253.50" x2="255.52" y2="255.20" stroke="#000" stroke-width="1"/>
<line x1="258.55" y1="424.50" x2="258.55" y2="426.20" stroke="#000" stroke-width="1"/>
<line x1="258.55" y1="253.50" x2="258.55" y2="255.20" stroke="#000" stroke-width="1"/>
<line x1="260.90" y1="424.50" x2="260.90" y2="426.20" stroke="#000" stroke-width="1"/>
<line x1="260.90" y1="253.50" x2="260.90" y2="255.20" stroke="#000" stroke-width="1"/>
<line x1="262.82" y1="424.50" x2="262.82" y2="426.20" stroke="#000" stroke-width="1"/>
<line x1="262.82" y1="253.50" x2="262.82" y2="255.20" stroke="#000" stroke-width="1"/>
<line x1="264.45" y1="424.50" x2="264.45" y2="426.20" stroke="#000" stroke-width="1"/>
<line x1="264.45" y1="253.50" x2="264.45" y2="255.20" stroke="#000" stroke-width="1"/>
<line x1="265.85" y1="424.50" x2="265.85" y2="426.20" stroke="#000" stroke-width="1"/>
<line x1="265.85" y1="253.50" x2="265.85" y2="255.20" stroke="#000" stroke-width="1"/>
<line x1="267.09" y1="424.50" x2="267.09" y2="426.20" stroke="#000" stroke-width="1"/>
<line x1="267.09" y1="253.50" x2="267.09" y2="255.20" stroke="#000" stroke-width="1"/>
<line x1="268.20" y1="424.50" x2="268.20" y2="427.50" stroke="#000" stroke-width="1"/>
<line x1="268.20" y1="253.50" x2="268.20" y2="256.50" stroke="#000" stroke-width="1"/>
<line x1="275.50" y1="424.50" x2="275.50" y2="426.20" stroke="#000" stroke-width="1"/>
<line x1="275.50" y1="253.50" x2="275.50" y2="255.20" stroke="#000" stroke-width="1"/>
<line x1="47.00" y1="424.50" x2="50.00" y2="424.50" stroke="#000" stroke-width="1"/>
<line x1="48.30" y1="381.75" x2="50.00" y2="381.75" stroke="#000" stroke-width="1"/>
<line x1="47.00" y1="339.00" x2="50.00" y2="339.00" stroke="#000" stroke-width="1"/>
<line x1="48.30" y1="296.25" x2="50.00" y2="296.25" stroke="#000" stroke-width="1"/>
<line x1="47.00" y1="253.50" x2="50.00" y2="253.50" stroke="#000" stroke-width="1"/>
<line x1="272.50" y1="424.50" x2="275.50" y2="424.50" stroke="#000" stroke-width="1"/>
<line x1="273.80" y1="408.21" x2="275.50" y2="408.21" stroke="#000" stroke-width="1"/>
<line x1="272.50" y1="391.93" x2="275.50" y2="391.93" stroke="#000" stroke-width="1"/>
<line x1="273.80" y1="375.64" x2="275.50" y2="375.64" stroke="#000" stroke-width="1"/>
<line x1="272.50" y1="359.36" x2="275.50" y2="359.36" stroke="#000" stroke-width="1"/>
<line x1="273.80" y1="343.07" x2="275.50" y2="343.07" stroke="#000" stroke-width="1"/>
<line x1="272.50" y1="326.79" x2="275.50" y2="326.79" stroke="#000" stroke-width="1"/>
<line x1="273.80" y1="310.50" x2="275.50" y2="310.50" stroke="#000" stroke-width="1"/>
<line x1="272.50" y1="294.21" x2="275.50" y2="294.21" stroke="#000" stroke-width="1"/>
<line x1="273.80" y1="277.93" x2="275.50" y2="277.93" stroke="#000" stroke-width="1"/>
<line x1="272.50" y1="261.64" x2="275.50" y2="261.64" stroke="#000" stroke-width="1"/>
<text x="50.00" y="446.20" font-size="17" text-anchor="middle">10<tspan font-size="11" dy="-8.1">-8</tspan></text>
<text x="98.49" y="446.20" font-size="17" text-anchor="middle">10<tspan font-size="11" dy="-8.1">-6</tspan></text>
<text x="146.98" y="446.20" font-size="17" text-anchor="middle">10<tspan font-size="11" dy="-8.1">-4</tspan></text>
<text x="195.47" y="446.20" font-size="17" text-anchor="middle">10<tspan font-size="11" dy="-8.1">-2</tspan></text>
<text x="243.96" y="446.20" font-size="17" text-anchor="middle">10<tspan font-size="11" dy="-8.1">0</tspan></text>
<text x="44.50" y="429.30" font-size="17" text-anchor="end" fill="#000" >0</text>
<text x="44.50" y="343.80" font-size="17" text-anchor="end" fill="#000" >20</text>
<text x="44.50" y="258.30" font-size="17" text-anchor="end" fill="#000" >40</text>
<text x="278.50" y="429.30" font-size="17" text-anchor="start" fill="#000" >0.0</text>
<text x="278.50" y="396.73" font-size="17" text-anchor="start" fill="#000" >0.2</text>
<text x="278.50" y="364.16" font-size="17" text-anchor="start" fill="#000" >0.4</text>
<text x="278.50" y="331.59" font-size="17" text-anchor="start" fill="#000" >0.6</text>
<text x="278.50" y="299.01" font-size="17" text-anchor="start" fill="#000" >0.8</text>
<text x="278.50" y="266.44" font-size="17" text-anchor="start" fill="#000" >1.0</text>
<g transform="translate(0.05,244.00)"><polygon points="168.3,206.5 169.3,207.2 162.2,217.8 161.2,219.2 159.9,219.0 160.2,217.5" fill="#000"/><path d="M159.8,209.3 C160.3,207.2 161.8,206.3 162.6,207.5 C163.3,208.8 163.6,211 163.8,213.5" stroke="#000" stroke-width="1.1" fill="none"/></g>
<text transform="translate(24.00,339.45) rotate(-90)" font-size="18" text-anchor="middle">Nc</text>
<text transform="translate(315.80,339.85) rotate(-90)" font-size="18" text-anchor="middle">NMI</text>
<text x="1.20" y="256.30" font-size="29.5" text-anchor="start" fill="#000" >B</text>
<text x="137.50" y="416.20" font-size="12" transform="matrix(1 0 0 1.1100 0 -45.782)"><tspan font-style="italic">p</tspan><tspan font-size="8.5" dy="3.5">in</tspan><tspan dy="-3.5" class="eq">=</tspan><tspan>1.0, </tspan><tspan font-style="italic">p</tspan><tspan font-size="8.5" dy="3.5">out1</tspan><tspan dy="-3.5" class="eq">=</tspan><tspan>0.4, </tspan><tspan font-style="italic">p</tspan><tspan font-size="8.5" dy="3.5">out2</tspan><tspan dy="-3.5" class="eq">=</tspan><tspan>0.1</tspan></text>
<text x="201.50" y="347.50" font-size="13" text-anchor="middle" fill="#e0158c" class="mag">P2</text>
<line x1="201.50" y1="352.00" x2="201.50" y2="370.20" stroke="#e00000" stroke-width="2.05"/>
<polygon points="201.50,380.00 198.20,369.20 201.50,370.20 204.80,369.20" fill="#e00000"/>
<text x="238.00" y="319.80" font-size="13" text-anchor="middle" fill="#000" >P1</text>
<line x1="246.00" y1="323.30" x2="257.33" y2="331.40" stroke="#000" stroke-width="2.05"/>
<polygon points="265.30,337.10 254.60,333.50 257.33,331.40 258.43,328.13" fill="#000"/>
<clipPath id="cC"><rect x="420" y="9.0" width="226.0" height="171.5"/></clipPath>
<polyline points="420.00,178.00 423.00,171.00 430.00,171.00 431.50,167.90 454.00,167.90 455.50,165.70 460.00,165.70 461.50,164.30 482.00,164.30 489.00,163.00 575.70,162.70 577.20,158.10 578.70,156.60 579.80,153.50 581.30,152.00 582.80,138.50 585.10,137.70 586.90,124.90 588.40,117.30 591.90,116.60 593.40,114.30 595.60,111.80 640.70,111.80 641.30,5.00" fill="none" stroke="#0000ff" stroke-width="2.1" stroke-linejoin="round" clip-path="url(#cC)"/>
<polyline points="420.00,180.50 422.40,137.00 422.40,115.10 430.60,115.10 431.20,82.30 454.00,82.30 455.30,49.80 459.80,49.80 461.20,33.30 481.80,33.30 483.10,20.10 488.00,20.10 490.00,17.10 576.00,16.90 577.50,19.80 578.70,22.80 580.30,25.10 581.30,28.10 582.40,29.60 583.30,37.10 584.30,44.40 585.80,53.70 587.30,62.00 588.90,65.80 591.90,67.00 593.40,70.30 595.60,71.50 641.20,71.60 642.80,83.20 644.30,93.80 645.50,98.00" fill="none" stroke="#000" stroke-width="2.1" stroke-linejoin="round" clip-path="url(#cC)"/>
<polyline points="420.00,180.50 423.00,136.90 430.10,136.90 431.80,115.10 454.00,115.10 455.00,93.20 459.20,93.20 460.80,82.50 481.80,82.50 483.10,74.10 488.00,74.10 490.00,71.50 576.00,71.50 577.50,67.00 579.00,65.80 580.60,62.00 581.80,59.80 583.30,52.20 584.30,44.40 585.80,34.10 587.30,26.60 588.40,23.30 590.40,22.40 592.60,20.30 594.90,17.50 597.10,16.90 641.10,16.90 644.50,50.60" fill="none" stroke="#e00000" stroke-width="2.1" stroke-linejoin="round" clip-path="url(#cC)"/>
<line x1="417.00" y1="9.50" x2="646.00" y2="9.50" stroke="#606060" stroke-width="1"/>
<line x1="417.00" y1="180.50" x2="646.00" y2="180.50" stroke="#333" stroke-width="1"/>
<line x1="419.90" y1="9.50" x2="419.90" y2="180.50" stroke="#666" stroke-width="1"/>
<line x1="645.50" y1="9.50" x2="645.50" y2="181.00" stroke="#666" stroke-width="1"/>
<line x1="420.00" y1="180.50" x2="420.00" y2="183.50" stroke="#000" stroke-width="1"/>
<line x1="420.00" y1="9.50" x2="420.00" y2="12.50" stroke="#000" stroke-width="1"/>
<line x1="424.44" y1="180.50" x2="424.44" y2="182.20" stroke="#000" stroke-width="1"/>
<line x1="424.44" y1="9.50" x2="424.44" y2="11.20" stroke="#000" stroke-width="1"/>
<line x1="427.03" y1="180.50" x2="427.03" y2="182.20" stroke="#000" stroke-width="1"/>
<line x1="427.03" y1="9.50" x2="427.03" y2="11.20" stroke="#000" stroke-width="1"/>
<line x1="428.87" y1="180.50" x2="428.87" y2="182.20" stroke="#000" stroke-width="1"/>
<line x1="428.87" y1="9.50" x2="428.87" y2="11.20" stroke="#000" stroke-width="1"/>
<line x1="430.30" y1="180.50" x2="430.30" y2="182.20" stroke="#000" stroke-width="1"/>
<line x1="430.30" y1="9.50" x2="430.30" y2="11.20" stroke="#000" stroke-width="1"/>
<line x1="431.47" y1="180.50" x2="431.47" y2="182.20" stroke="#000" stroke-width="1"/>
<line x1="431.47" y1="9.50" x2="431.47" y2="11.20" stroke="#000" stroke-width="1"/>
<line x1="432.45" y1="180.50" x2="432.45" y2="182.20" stroke="#000" stroke-width="1"/>
<line x1="432.45" y1="9.50" x2="432.45" y2="11.20" stroke="#000" stroke-width="1"/>
<line x1="433.31" y1="180.50" x2="433.31" y2="182.20" stroke="#000" stroke-width="1"/>
<line x1="433.31" y1="9.50" x2="433.31" y2="11.20" stroke="#000" stroke-width="1"/>
<line x1="434.06" y1="180.50" x2="434.06" y2="182.20" stroke="#000" stroke-width="1"/>
<line x1="434.06" y1="9.50" x2="434.06" y2="11.20" stroke="#000" stroke-width="1"/>
<line x1="434.74" y1="180.50" x2="434.74" y2="183.50" stroke="#000" stroke-width="1"/>
<line x1="434.74" y1="9.50" x2="434.74" y2="12.50" stroke="#000" stroke-width="1"/>
<line x1="439.17" y1="180.50" x2="439.17" y2="182.20" stroke="#000" stroke-width="1"/>
<line x1="439.17" y1="9.50" x2="439.17" y2="11.20" stroke="#000" stroke-width="1"/>
<line x1="441.77" y1="180.50" x2="441.77" y2="182.20" stroke="#000" stroke-width="1"/>
<line x1="441.77" y1="9.50" x2="441.77" y2="11.20" stroke="#000" stroke-width="1"/>
<line x1="443.61" y1="180.50" x2="443.61" y2="182.20" stroke="#000" stroke-width="1"/>
<line x1="443.61" y1="9.50" x2="443.61" y2="11.20" stroke="#000" stroke-width="1"/>
<line x1="445.04" y1="180.50" x2="445.04" y2="182.20" stroke="#000" stroke-width="1"/>
<line x1="445.04" y1="9.50" x2="445.04" y2="11.20" stroke="#000" stroke-width="1"/>
<line x1="446.21" y1="180.50" x2="446.21" y2="182.20" stroke="#000" stroke-width="1"/>
<line x1="446.21" y1="9.50" x2="446.21" y2="11.20" stroke="#000" stroke-width="1"/>
<line x1="447.19" y1="180.50" x2="447.19" y2="182.20" stroke="#000" stroke-width="1"/>
<line x1="447.19" y1="9.50" x2="447.19" y2="11.20" stroke="#000" stroke-width="1"/>
<line x1="448.05" y1="180.50" x2="448.05" y2="182.20" stroke="#000" stroke-width="1"/>
<line x1="448.05" y1="9.50" x2="448.05" y2="11.20" stroke="#000" stroke-width="1"/>
<line x1="448.80" y1="180.50" x2="448.80" y2="182.20" stroke="#000" stroke-width="1"/>
<line x1="448.80" y1="9.50" x2="448.80" y2="11.20" stroke="#000" stroke-width="1"/>
<line x1="449.48" y1="180.50" x2="449.48" y2="183.50" stroke="#000" stroke-width="1"/>
<line x1="449.48" y1="9.50" x2="449.48" y2="12.50" stroke="#000" stroke-width="1"/>
<line x1="453.91" y1="180.50" x2="453.91" y2="182.20" stroke="#000" stroke-width="1"/>
<line x1="453.91" y1="9.50" x2="453.91" y2="11.20" stroke="#000" stroke-width="1"/>
<line x1="456.51" y1="180.50" x2="456.51" y2="182.20" stroke="#000" stroke-width="1"/>
<line x1="456.51" y1="9.50" x2="456.51" y2="11.20" stroke="#000" stroke-width="1"/>
<line x1="458.35" y1="180.50" x2="458.35" y2="182.20" stroke="#000" stroke-width="1"/>
<line x1="458.35" y1="9.50" x2="458.35" y2="11.20" stroke="#000" stroke-width="1"/>
<line x1="459.78" y1="180.50" x2="459.78" y2="182.20" stroke="#000" stroke-width="1"/>
<line x1="459.78" y1="9.50" x2="459.78" y2="11.20" stroke="#000" stroke-width="1"/>
<line x1="460.94" y1="180.50" x2="460.94" y2="182.20" stroke="#000" stroke-width="1"/>
<line x1="460.94" y1="9.50" x2="460.94" y2="11.20" stroke="#000" stroke-width="1"/>
<line x1="461.93" y1="180.50" x2="461.93" y2="182.20" stroke="#000" stroke-width="1"/>
<line x1="461.93" y1="9.50" x2="461.93" y2="11.20" stroke="#000" stroke-width="1"/>
<line x1="462.78" y1="180.50" x2="462.78" y2="182.20" stroke="#000" stroke-width="1"/>
<line x1="462.78" y1="9.50" x2="462.78" y2="11.20" stroke="#000" stroke-width="1"/>
<line x1="463.54" y1="180.50" x2="463.54" y2="182.20" stroke="#000" stroke-width="1"/>
<line x1="463.54" y1="9.50" x2="463.54" y2="11.20" stroke="#000" stroke-width="1"/>
<line x1="464.21" y1="180.50" x2="464.21" y2="183.50" stroke="#000" stroke-width="1"/>
<line x1="464.21" y1="9.50" x2="464.21" y2="12.50" stroke="#000" stroke-width="1"/>
<line x1="468.65" y1="180.50" x2="468.65" y2="182.20" stroke="#000" stroke-width="1"/>
<line x1="468.65" y1="9.50" x2="468.65" y2="11.20" stroke="#000" stroke-width="1"/>
<line x1="471.24" y1="180.50" x2="471.24" y2="182.20" stroke="#000" stroke-width="1"/>
<line x1="471.24" y1="9.50" x2="471.24" y2="11.20" stroke="#000" stroke-width="1"/>
<line x1="473.09" y1="180.50" x2="473.09" y2="182.20" stroke="#000" stroke-width="1"/>
<line x1="473.09" y1="9.50" x2="473.09" y2="11.20" stroke="#000" stroke-width="1"/>
<line x1="474.51" y1="180.50" x2="474.51" y2="182.20" stroke="#000" stroke-width="1"/>
<line x1="474.51" y1="9.50" x2="474.51" y2="11.20" stroke="#000" stroke-width="1"/>
<line x1="475.68" y1="180.50" x2="475.68" y2="182.20" stroke="#000" stroke-width="1"/>
<line x1="475.68" y1="9.50" x2="475.68" y2="11.20" stroke="#000" stroke-width="1"/>
<line x1="476.67" y1="180.50" x2="476.67" y2="182.20" stroke="#000" stroke-width="1"/>
<line x1="476.67" y1="9.50" x2="476.67" y2="11.20" stroke="#000" stroke-width="1"/>
<line x1="477.52" y1="180.50" x2="477.52" y2="182.20" stroke="#000" stroke-width="1"/>
<line x1="477.52" y1="9.50" x2="477.52" y2="11.20" stroke="#000" stroke-width="1"/>
<line x1="478.28" y1="180.50" x2="478.28" y2="182.20" stroke="#000" stroke-width="1"/>
<line x1="478.28" y1="9.50" x2="478.28" y2="11.20" stroke="#000" stroke-width="1"/>
<line x1="478.95" y1="180.50" x2="478.95" y2="183.50" stroke="#000" stroke-width="1"/>
<line x1="478.95" y1="9.50" x2="478.95" y2="12.50" stroke="#000" stroke-width="1"/>
<line x1="483.39" y1="180.50" x2="483.39" y2="182.20" stroke="#000" stroke-width="1"/>
<line x1="483.39" y1="9.50" x2="483.39" y2="11.20" stroke="#000" stroke-width="1"/>
<line x1="485.98" y1="180.50" x2="485.98" y2="182.20" stroke="#000" stroke-width="1"/>
<line x1="485.98" y1="9.50" x2="485.98" y2="11.20" stroke="#000" stroke-width="1"/>
<line x1="487.82" y1="180.50" x2="487.82" y2="182.20" stroke="#000" stroke-width="1"/>
<line x1="487.82" y1="9.50" x2="487.82" y2="11.20" stroke="#000" stroke-width="1"/>
<line x1="489.25" y1="180.50" x2="489.25" y2="182.20" stroke="#000" stroke-width="1"/>
<line x1="489.25" y1="9.50" x2="489.25" y2="11.20" stroke="#000" stroke-width="1"/>
<line x1="490.42" y1="180.50" x2="490.42" y2="182.20" stroke="#000" stroke-width="1"/>
<line x1="490.42" y1="9.50" x2="490.42" y2="11.20" stroke="#000" stroke-width="1"/>
<line x1="491.40" y1="180.50" x2="491.40" y2="182.20" stroke="#000" stroke-width="1"/>
<line x1="491.40" y1="9.50" x2="491.40" y2="11.20" stroke="#000" stroke-width="1"/>
<line x1="492.26" y1="180.50" x2="492.26" y2="182.20" stroke="#000" stroke-width="1"/>
<line x1="492.26" y1="9.50" x2="492.26" y2="11.20" stroke="#000" stroke-width="1"/>
<line x1="493.01" y1="180.50" x2="493.01" y2="182.20" stroke="#000" stroke-width="1"/>
<line x1="493.01" y1="9.50" x2="493.01" y2="11.20" stroke="#000" stroke-width="1"/>
<line x1="493.69" y1="180.50" x2="493.69" y2="183.50" stroke="#000" stroke-width="1"/>
<line x1="493.69" y1="9.50" x2="493.69" y2="12.50" stroke="#000" stroke-width="1"/>
<line x1="498.12" y1="180.50" x2="498.12" y2="182.20" stroke="#000" stroke-width="1"/>
<line x1="498.12" y1="9.50" x2="498.12" y2="11.20" stroke="#000" stroke-width="1"/>
<line x1="500.72" y1="180.50" x2="500.72" y2="182.20" stroke="#000" stroke-width="1"/>
<line x1="500.72" y1="9.50" x2="500.72" y2="11.20" stroke="#000" stroke-width="1"/>
<line x1="502.56" y1="180.50" x2="502.56" y2="182.20" stroke="#000" stroke-width="1"/>
<line x1="502.56" y1="9.50" x2="502.56" y2="11.20" stroke="#000" stroke-width="1"/>
<line x1="503.99" y1="180.50" x2="503.99" y2="182.20" stroke="#000" stroke-width="1"/>
<line x1="503.99" y1="9.50" x2="503.99" y2="11.20" stroke="#000" stroke-width="1"/>
<line x1="505.16" y1="180.50" x2="505.16" y2="182.20" stroke="#000" stroke-width="1"/>
<line x1="505.16" y1="9.50" x2="505.16" y2="11.20" stroke="#000" stroke-width="1"/>
<line x1="506.14" y1="180.50" x2="506.14" y2="182.20" stroke="#000" stroke-width="1"/>
<line x1="506.14" y1="9.50" x2="506.14" y2="11.20" stroke="#000" stroke-width="1"/>
<line x1="507.00" y1="180.50" x2="507.00" y2="182.20" stroke="#000" stroke-width="1"/>
<line x1="507.00" y1="9.50" x2="507.00" y2="11.20" stroke="#000" stroke-width="1"/>
<line x1="507.75" y1="180.50" x2="507.75" y2="182.20" stroke="#000" stroke-width="1"/>
<line x1="507.75" y1="9.50" x2="507.75" y2="11.20" stroke="#000" stroke-width="1"/>
<line x1="508.43" y1="180.50" x2="508.43" y2="183.50" stroke="#000" stroke-width="1"/>
<line x1="508.43" y1="9.50" x2="508.43" y2="12.50" stroke="#000" stroke-width="1"/>
<line x1="512.86" y1="180.50" x2="512.86" y2="182.20" stroke="#000" stroke-width="1"/>
<line x1="512.86" y1="9.50" x2="512.86" y2="11.20" stroke="#000" stroke-width="1"/>
<line x1="515.46" y1="180.50" x2="515.46" y2="182.20" stroke="#000" stroke-width="1"/>
<line x1="515.46" y1="9.50" x2="515.46" y2="11.20" stroke="#000" stroke-width="1"/>
<line x1="517.30" y1="180.50" x2="517.30" y2="182.20" stroke="#000" stroke-width="1"/>
<line x1="517.30" y1="9.50" x2="517.30" y2="11.20" stroke="#000" stroke-width="1"/>
<line x1="518.73" y1="180.50" x2="518.73" y2="182.20" stroke="#000" stroke-width="1"/>
<line x1="518.73" y1="9.50" x2="518.73" y2="11.20" stroke="#000" stroke-width="1"/>
<line x1="519.89" y1="180.50" x2="519.89" y2="182.20" stroke="#000" stroke-width="1"/>
<line x1="519.89" y1="9.50" x2="519.89" y2="11.20" stroke="#000" stroke-width="1"/>
<line x1="520.88" y1="180.50" x2="520.88" y2="182.20" stroke="#000" stroke-width="1"/>
<line x1="520.88" y1="9.50" x2="520.88" y2="11.20" stroke="#000" stroke-width="1"/>
<line x1="521.73" y1="180.50" x2="521.73" y2="182.20" stroke="#000" stroke-width="1"/>
<line x1="521.73" y1="9.50" x2="521.73" y2="11.20" stroke="#000" stroke-width="1"/>
<line x1="522.49" y1="180.50" x2="522.49" y2="182.20" stroke="#000" stroke-width="1"/>
<line x1="522.49" y1="9.50" x2="522.49" y2="11.20" stroke="#000" stroke-width="1"/>
<line x1="523.16" y1="180.50" x2="523.16" y2="183.50" stroke="#000" stroke-width="1"/>
<line x1="523.16" y1="9.50" x2="523.16" y2="12.50" stroke="#000" stroke-width="1"/>
<line x1="527.60" y1="180.50" x2="527.60" y2="182.20" stroke="#000" stroke-width="1"/>
<line x1="527.60" y1="9.50" x2="527.60" y2="11.20" stroke="#000" stroke-width="1"/>
<line x1="530.19" y1="180.50" x2="530.19" y2="182.20" stroke="#000" stroke-width="1"/>
<line x1="530.19" y1="9.50" x2="530.19" y2="11.20" stroke="#000" stroke-width="1"/>
<line x1="532.04" y1="180.50" x2="532.04" y2="182.20" stroke="#000" stroke-width="1"/>
<line x1="532.04" y1="9.50" x2="532.04" y2="11.20" stroke="#000" stroke-width="1"/>
<line x1="533.46" y1="180.50" x2="533.46" y2="182.20" stroke="#000" stroke-width="1"/>
<line x1="533.46" y1="9.50" x2="533.46" y2="11.20" stroke="#000" stroke-width="1"/>
<line x1="534.63" y1="180.50" x2="534.63" y2="182.20" stroke="#000" stroke-width="1"/>
<line x1="534.63" y1="9.50" x2="534.63" y2="11.20" stroke="#000" stroke-width="1"/>
<line x1="535.62" y1="180.50" x2="535.62" y2="182.20" stroke="#000" stroke-width="1"/>
<line x1="535.62" y1="9.50" x2="535.62" y2="11.20" stroke="#000" stroke-width="1"/>
<line x1="536.47" y1="180.50" x2="536.47" y2="182.20" stroke="#000" stroke-width="1"/>
<line x1="536.47" y1="9.50" x2="536.47" y2="11.20" stroke="#000" stroke-width="1"/>
<line x1="537.23" y1="180.50" x2="537.23" y2="182.20" stroke="#000" stroke-width="1"/>
<line x1="537.23" y1="9.50" x2="537.23" y2="11.20" stroke="#000" stroke-width="1"/>
<line x1="537.90" y1="180.50" x2="537.90" y2="183.50" stroke="#000" stroke-width="1"/>
<line x1="537.90" y1="9.50" x2="537.90" y2="12.50" stroke="#000" stroke-width="1"/>
<line x1="542.34" y1="180.50" x2="542.34" y2="182.20" stroke="#000" stroke-width="1"/>
<line x1="542.34" y1="9.50" x2="542.34" y2="11.20" stroke="#000" stroke-width="1"/>
<line x1="544.93" y1="180.50" x2="544.93" y2="182.20" stroke="#000" stroke-width="1"/>
<line x1="544.93" y1="9.50" x2="544.93" y2="11.20" stroke="#000" stroke-width="1"/>
<line x1="546.77" y1="180.50" x2="546.77" y2="182.20" stroke="#000" stroke-width="1"/>
<line x1="546.77" y1="9.50" x2="546.77" y2="11.20" stroke="#000" stroke-width="1"/>
<line x1="548.20" y1="180.50" x2="548.20" y2="182.20" stroke="#000" stroke-width="1"/>
<line x1="548.20" y1="9.50" x2="548.20" y2="11.20" stroke="#000" stroke-width="1"/>
<line x1="549.37" y1="180.50" x2="549.37" y2="182.20" stroke="#000" stroke-width="1"/>
<line x1="549.37" y1="9.50" x2="549.37" y2="11.20" stroke="#000" stroke-width="1"/>
<line x1="550.36" y1="180.50" x2="550.36" y2="182.20" stroke="#000" stroke-width="1"/>
<line x1="550.36" y1="9.50" x2="550.36" y2="11.20" stroke="#000" stroke-width="1"/>
<line x1="551.21" y1="180.50" x2="551.21" y2="182.20" stroke="#000" stroke-width="1"/>
<line x1="551.21" y1="9.50" x2="551.21" y2="11.20" stroke="#000" stroke-width="1"/>
<line x1="551.96" y1="180.50" x2="551.96" y2="182.20" stroke="#000" stroke-width="1"/>
<line x1="551.96" y1="9.50" x2="551.96" y2="11.20" stroke="#000" stroke-width="1"/>
<line x1="552.64" y1="180.50" x2="552.64" y2="183.50" stroke="#000" stroke-width="1"/>
<line x1="552.64" y1="9.50" x2="552.64" y2="12.50" stroke="#000" stroke-width="1"/>
<line x1="557.07" y1="180.50" x2="557.07" y2="182.20" stroke="#000" stroke-width="1"/>
<line x1="557.07" y1="9.50" x2="557.07" y2="11.20" stroke="#000" stroke-width="1"/>
<line x1="559.67" y1="180.50" x2="559.67" y2="182.20" stroke="#000" stroke-width="1"/>
<line x1="559.67" y1="9.50" x2="559.67" y2="11.20" stroke="#000" stroke-width="1"/>
<line x1="561.51" y1="180.50" x2="561.51" y2="182.20" stroke="#000" stroke-width="1"/>
<line x1="561.51" y1="9.50" x2="561.51" y2="11.20" stroke="#000" stroke-width="1"/>
<line x1="562.94" y1="180.50" x2="562.94" y2="182.20" stroke="#000" stroke-width="1"/>
<line x1="562.94" y1="9.50" x2="562.94" y2="11.20" stroke="#000" stroke-width="1"/>
<line x1="564.11" y1="180.50" x2="564.11" y2="182.20" stroke="#000" stroke-width="1"/>
<line x1="564.11" y1="9.50" x2="564.11" y2="11.20" stroke="#000" stroke-width="1"/>
<line x1="565.09" y1="180.50" x2="565.09" y2="182.20" stroke="#000" stroke-width="1"/>
<line x1="565.09" y1="9.50" x2="565.09" y2="11.20" stroke="#000" stroke-width="1"/>
<line x1="565.95" y1="180.50" x2="565.95" y2="182.20" stroke="#000" stroke-width="1"/>
<line x1="565.95" y1="9.50" x2="565.95" y2="11.20" stroke="#000" stroke-width="1"/>
<line x1="566.70" y1="180.50" x2="566.70" y2="182.20" stroke="#000" stroke-width="1"/>
<line x1="566.70" y1="9.50" x2="566.70" y2="11.20" stroke="#000" stroke-width="1"/>
<line x1="567.38" y1="180.50" x2="567.38" y2="183.50" stroke="#000" stroke-width="1"/>
<line x1="567.38" y1="9.50" x2="567.38" y2="12.50" stroke="#000" stroke-width="1"/>
<line x1="571.81" y1="180.50" x2="571.81" y2="182.20" stroke="#000" stroke-width="1"/>
<line x1="571.81" y1="9.50" x2="571.81" y2="11.20" stroke="#000" stroke-width="1"/>
<line x1="574.41" y1="180.50" x2="574.41" y2="182.20" stroke="#000" stroke-width="1"/>
<line x1="574.41" y1="9.50" x2="574.41" y2="11.20" stroke="#000" stroke-width="1"/>
<line x1="576.25" y1="180.50" x2="576.25" y2="182.20" stroke="#000" stroke-width="1"/>
<line x1="576.25" y1="9.50" x2="576.25" y2="11.20" stroke="#000" stroke-width="1"/>
<line x1="577.68" y1="180.50" x2="577.68" y2="182.20" stroke="#000" stroke-width="1"/>
<line x1="577.68" y1="9.50" x2="577.68" y2="11.20" stroke="#000" stroke-width="1"/>
<line x1="578.84" y1="180.50" x2="578.84" y2="182.20" stroke="#000" stroke-width="1"/>
<line x1="578.84" y1="9.50" x2="578.84" y2="11.20" stroke="#000" stroke-width="1"/>
<line x1="579.83" y1="180.50" x2="579.83" y2="182.20" stroke="#000" stroke-width="1"/>
<line x1="579.83" y1="9.50" x2="579.83" y2="11.20" stroke="#000" stroke-width="1"/>
<line x1="580.69" y1="180.50" x2="580.69" y2="182.20" stroke="#000" stroke-width="1"/>
<line x1="580.69" y1="9.50" x2="580.69" y2="11.20" stroke="#000" stroke-width="1"/>
<line x1="581.44" y1="180.50" x2="581.44" y2="182.20" stroke="#000" stroke-width="1"/>
<line x1="581.44" y1="9.50" x2="581.44" y2="11.20" stroke="#000" stroke-width="1"/>
<line x1="582.11" y1="180.50" x2="582.11" y2="183.50" stroke="#000" stroke-width="1"/>
<line x1="582.11" y1="9.50" x2="582.11" y2="12.50" stroke="#000" stroke-width="1"/>
<line x1="586.55" y1="180.50" x2="586.55" y2="182.20" stroke="#000" stroke-width="1"/>
<line x1="586.55" y1="9.50" x2="586.55" y2="11.20" stroke="#000" stroke-width="1"/>
<line x1="589.14" y1="180.50" x2="589.14" y2="182.20" stroke="#000" stroke-width="1"/>
<line x1="589.14" y1="9.50" x2="589.14" y2="11.20" stroke="#000" stroke-width="1"/>
<line x1="590.99" y1="180.50" x2="590.99" y2="182.20" stroke="#000" stroke-width="1"/>
<line x1="590.99" y1="9.50" x2="590.99" y2="11.20" stroke="#000" stroke-width="1"/>
<line x1="592.41" y1="180.50" x2="592.41" y2="182.20" stroke="#000" stroke-width="1"/>
<line x1="592.41" y1="9.50" x2="592.41" y2="11.20" stroke="#000" stroke-width="1"/>
<line x1="593.58" y1="180.50" x2="593.58" y2="182.20" stroke="#000" stroke-width="1"/>
<line x1="593.58" y1="9.50" x2="593.58" y2="11.20" stroke="#000" stroke-width="1"/>
<line x1="594.57" y1="180.50" x2="594.57" y2="182.20" stroke="#000" stroke-width="1"/>
<line x1="594.57" y1="9.50" x2="594.57" y2="11.20" stroke="#000" stroke-width="1"/>
<line x1="595.42" y1="180.50" x2="595.42" y2="182.20" stroke="#000" stroke-width="1"/>
<line x1="595.42" y1="9.50" x2="595.42" y2="11.20" stroke="#000" stroke-width="1"/>
<line x1="596.18" y1="180.50" x2="596.18" y2="182.20" stroke="#000" stroke-width="1"/>
<line x1="596.18" y1="9.50" x2="596.18" y2="11.20" stroke="#000" stroke-width="1"/>
<line x1="596.85" y1="180.50" x2="596.85" y2="183.50" stroke="#000" stroke-width="1"/>
<line x1="596.85" y1="9.50" x2="596.85" y2="12.50" stroke="#000" stroke-width="1"/>
<line x1="601.29" y1="180.50" x2="601.29" y2="182.20" stroke="#000" stroke-width="1"/>
<line x1="601.29" y1="9.50" x2="601.29" y2="11.20" stroke="#000" stroke-width="1"/>
<line x1="603.88" y1="180.50" x2="603.88" y2="182.20" stroke="#000" stroke-width="1"/>
<line x1="603.88" y1="9.50" x2="603.88" y2="11.20" stroke="#000" stroke-width="1"/>
<line x1="605.72" y1="180.50" x2="605.72" y2="182.20" stroke="#000" stroke-width="1"/>
<line x1="605.72" y1="9.50" x2="605.72" y2="11.20" stroke="#000" stroke-width="1"/>
<line x1="607.15" y1="180.50" x2="607.15" y2="182.20" stroke="#000" stroke-width="1"/>
<line x1="607.15" y1="9.50" x2="607.15" y2="11.20" stroke="#000" stroke-width="1"/>
<line x1="608.32" y1="180.50" x2="608.32" y2="182.20" stroke="#000" stroke-width="1"/>
<line x1="608.32" y1="9.50" x2="608.32" y2="11.20" stroke="#000" stroke-width="1"/>
<line x1="609.31" y1="180.50" x2="609.31" y2="182.20" stroke="#000" stroke-width="1"/>
<line x1="609.31" y1="9.50" x2="609.31" y2="11.20" stroke="#000" stroke-width="1"/>
<line x1="610.16" y1="180.50" x2="610.16" y2="182.20" stroke="#000" stroke-width="1"/>
<line x1="610.16" y1="9.50" x2="610.16" y2="11.20" stroke="#000" stroke-width="1"/>
<line x1="610.91" y1="180.50" x2="610.91" y2="182.20" stroke="#000" stroke-width="1"/>
<line x1="610.91" y1="9.50" x2="610.91" y2="11.20" stroke="#000" stroke-width="1"/>
<line x1="611.59" y1="180.50" x2="611.59" y2="183.50" stroke="#000" stroke-width="1"/>
<line x1="611.59" y1="9.50" x2="611.59" y2="12.50" stroke="#000" stroke-width="1"/>
<line x1="616.02" y1="180.50" x2="616.02" y2="182.20" stroke="#000" stroke-width="1"/>
<line x1="616.02" y1="9.50" x2="616.02" y2="11.20" stroke="#000" stroke-width="1"/>
<line x1="618.62" y1="180.50" x2="618.62" y2="182.20" stroke="#000" stroke-width="1"/>
<line x1="618.62" y1="9.50" x2="618.62" y2="11.20" stroke="#000" stroke-width="1"/>
<line x1="620.46" y1="180.50" x2="620.46" y2="182.20" stroke="#000" stroke-width="1"/>
<line x1="620.46" y1="9.50" x2="620.46" y2="11.20" stroke="#000" stroke-width="1"/>
<line x1="621.89" y1="180.50" x2="621.89" y2="182.20" stroke="#000" stroke-width="1"/>
<line x1="621.89" y1="9.50" x2="621.89" y2="11.20" stroke="#000" stroke-width="1"/>
<line x1="623.06" y1="180.50" x2="623.06" y2="182.20" stroke="#000" stroke-width="1"/>
<line x1="623.06" y1="9.50" x2="623.06" y2="11.20" stroke="#000" stroke-width="1"/>
<line x1="624.04" y1="180.50" x2="624.04" y2="182.20" stroke="#000" stroke-width="1"/>
<line x1="624.04" y1="9.50" x2="624.04" y2="11.20" stroke="#000" stroke-width="1"/>
<line x1="624.90" y1="180.50" x2="624.90" y2="182.20" stroke="#000" stroke-width="1"/>
<line x1="624.90" y1="9.50" x2="624.90" y2="11.20" stroke="#000" stroke-width="1"/>
<line x1="625.65" y1="180.50" x2="625.65" y2="182.20" stroke="#000" stroke-width="1"/>
<line x1="625.65" y1="9.50" x2="625.65" y2="11.20" stroke="#000" stroke-width="1"/>
<line x1="626.33" y1="180.50" x2="626.33" y2="183.50" stroke="#000" stroke-width="1"/>
<line x1="626.33" y1="9.50" x2="626.33" y2="12.50" stroke="#000" stroke-width="1"/>
<line x1="630.76" y1="180.50" x2="630.76" y2="182.20" stroke="#000" stroke-width="1"/>
<line x1="630.76" y1="9.50" x2="630.76" y2="11.20" stroke="#000" stroke-width="1"/>
<line x1="633.36" y1="180.50" x2="633.36" y2="182.20" stroke="#000" stroke-width="1"/>
<line x1="633.36" y1="9.50" x2="633.36" y2="11.20" stroke="#000" stroke-width="1"/>
<line x1="635.20" y1="180.50" x2="635.20" y2="182.20" stroke="#000" stroke-width="1"/>
<line x1="635.20" y1="9.50" x2="635.20" y2="11.20" stroke="#000" stroke-width="1"/>
<line x1="636.63" y1="180.50" x2="636.63" y2="182.20" stroke="#000" stroke-width="1"/>
<line x1="636.63" y1="9.50" x2="636.63" y2="11.20" stroke="#000" stroke-width="1"/>
<line x1="637.79" y1="180.50" x2="637.79" y2="182.20" stroke="#000" stroke-width="1"/>
<line x1="637.79" y1="9.50" x2="637.79" y2="11.20" stroke="#000" stroke-width="1"/>
<line x1="638.78" y1="180.50" x2="638.78" y2="182.20" stroke="#000" stroke-width="1"/>
<line x1="638.78" y1="9.50" x2="638.78" y2="11.20" stroke="#000" stroke-width="1"/>
<line x1="639.64" y1="180.50" x2="639.64" y2="182.20" stroke="#000" stroke-width="1"/>
<line x1="639.64" y1="9.50" x2="639.64" y2="11.20" stroke="#000" stroke-width="1"/>
<line x1="640.39" y1="180.50" x2="640.39" y2="182.20" stroke="#000" stroke-width="1"/>
<line x1="640.39" y1="9.50" x2="640.39" y2="11.20" stroke="#000" stroke-width="1"/>
<line x1="641.06" y1="180.50" x2="641.06" y2="183.50" stroke="#000" stroke-width="1"/>
<line x1="641.06" y1="9.50" x2="641.06" y2="12.50" stroke="#000" stroke-width="1"/>
<line x1="645.50" y1="180.50" x2="645.50" y2="182.20" stroke="#000" stroke-width="1"/>
<line x1="645.50" y1="9.50" x2="645.50" y2="11.20" stroke="#000" stroke-width="1"/>
<line x1="417.00" y1="180.50" x2="420.00" y2="180.50" stroke="#000" stroke-width="1"/>
<line x1="418.30" y1="137.75" x2="420.00" y2="137.75" stroke="#000" stroke-width="1"/>
<line x1="417.00" y1="95.00" x2="420.00" y2="95.00" stroke="#000" stroke-width="1"/>
<line x1="418.30" y1="52.25" x2="420.00" y2="52.25" stroke="#000" stroke-width="1"/>
<line x1="417.00" y1="9.50" x2="420.00" y2="9.50" stroke="#000" stroke-width="1"/>
<line x1="642.50" y1="180.50" x2="645.50" y2="180.50" stroke="#000" stroke-width="1"/>
<line x1="643.80" y1="164.21" x2="645.50" y2="164.21" stroke="#000" stroke-width="1"/>
<line x1="642.50" y1="147.93" x2="645.50" y2="147.93" stroke="#000" stroke-width="1"/>
<line x1="643.80" y1="131.64" x2="645.50" y2="131.64" stroke="#000" stroke-width="1"/>
<line x1="642.50" y1="115.36" x2="645.50" y2="115.36" stroke="#000" stroke-width="1"/>
<line x1="643.80" y1="99.07" x2="645.50" y2="99.07" stroke="#000" stroke-width="1"/>
<line x1="642.50" y1="82.79" x2="645.50" y2="82.79" stroke="#000" stroke-width="1"/>
<line x1="643.80" y1="66.50" x2="645.50" y2="66.50" stroke="#000" stroke-width="1"/>
<line x1="642.50" y1="50.21" x2="645.50" y2="50.21" stroke="#000" stroke-width="1"/>
<line x1="643.80" y1="33.93" x2="645.50" y2="33.93" stroke="#000" stroke-width="1"/>
<line x1="642.50" y1="17.64" x2="645.50" y2="17.64" stroke="#000" stroke-width="1"/>
<text x="420.00" y="202.20" font-size="17" text-anchor="middle">10<tspan font-size="11" dy="-8.1">-14</tspan></text>
<text x="464.21" y="202.20" font-size="17" text-anchor="middle">10<tspan font-size="11" dy="-8.1">-11</tspan></text>
<text x="508.43" y="202.20" font-size="17" text-anchor="middle">10<tspan font-size="11" dy="-8.1">-8</tspan></text>
<text x="552.64" y="202.20" font-size="17" text-anchor="middle">10<tspan font-size="11" dy="-8.1">-5</tspan></text>
<text x="596.85" y="202.20" font-size="17" text-anchor="middle">10<tspan font-size="11" dy="-8.1">-2</tspan></text>
<text x="641.06" y="202.20" font-size="17" text-anchor="middle">10<tspan font-size="11" dy="-8.1">1</tspan></text>
<text x="414.50" y="185.30" font-size="17" text-anchor="end" fill="#000" >0</text>
<text x="414.50" y="99.80" font-size="17" text-anchor="end" fill="#000" >20</text>
<text x="414.50" y="14.30" font-size="17" text-anchor="end" fill="#000" >40</text>
<text x="648.50" y="185.30" font-size="17" text-anchor="start" fill="#000" >0.0</text>
<text x="648.50" y="152.73" font-size="17" text-anchor="start" fill="#000" >0.2</text>
<text x="648.50" y="120.16" font-size="17" text-anchor="start" fill="#000" >0.4</text>
<text x="648.50" y="87.59" font-size="17" text-anchor="start" fill="#000" >0.6</text>
<text x="648.50" y="55.01" font-size="17" text-anchor="start" fill="#000" >0.8</text>
<text x="648.50" y="22.44" font-size="17" text-anchor="start" fill="#000" >1.0</text>
<g transform="translate(370.05,0.00)"><polygon points="168.3,206.5 169.3,207.2 162.2,217.8 161.2,219.2 159.9,219.0 160.2,217.5" fill="#000"/><path d="M159.8,209.3 C160.3,207.2 161.8,206.3 162.6,207.5 C163.3,208.8 163.6,211 163.8,213.5" stroke="#000" stroke-width="1.1" fill="none"/></g>
<text transform="translate(394.00,95.45) rotate(-90)" font-size="18" text-anchor="middle">Nc</text>
<text transform="translate(685.80,95.85) rotate(-90)" font-size="18" text-anchor="middle">NMI</text>
<text x="368.00" y="20.00" font-size="29.5" text-anchor="start" fill="#000" >C</text>
<text x="573.00" y="176.00" font-size="12" transform="matrix(1 0 0 1.1100 0 -19.360)"><tspan font-style="italic">k</tspan><tspan font-size="8.5" dy="3.5">in0</tspan><tspan dy="-3.5" class="eq">=</tspan><tspan>14, </tspan><tspan font-style="italic">k</tspan><tspan font-size="8.5" dy="3.5">in1</tspan><tspan dy="-3.5" class="eq">=</tspan><tspan>3</tspan></text>
<text x="516.00" y="129.50" font-size="13" text-anchor="middle" fill="#e0158c" class="mag">P2</text>
<line x1="516.00" y1="134.00" x2="516.00" y2="152.20" stroke="#e00000" stroke-width="2.05"/>
<polygon points="516.00,162.00 512.70,151.20 516.00,152.20 519.30,151.20" fill="#e00000"/>
<text x="628.50" y="153.50" font-size="13" text-anchor="middle" fill="#000" >P1</text>
<line x1="628.50" y1="142.00" x2="628.50" y2="122.10" stroke="#000" stroke-width="2.05"/>
<polygon points="628.50,112.30 631.80,123.10 628.50,122.10 625.20,123.10" fill="#000"/>
<clipPath id="cD"><rect x="420" y="253.0" width="226.0" height="171.5"/></clipPath>
<polyline points="420.00,419.50 423.00,414.30 439.00,414.30 440.50,413.30 446.30,413.30 447.80,411.00 454.30,411.00 455.50,409.70 465.00,409.70 467.00,406.90 607.80,406.80 608.70,402.10 610.40,391.70 611.20,382.20 612.10,381.30 613.00,371.00 613.80,361.40 615.60,357.10 617.30,356.20 640.10,356.20 640.10,250.00" fill="none" stroke="#0000ff" stroke-width="2.1" stroke-linejoin="round" clip-path="url(#cD)"/>
<polyline points="420.00,410.00 422.30,380.60 439.00,380.60 440.50,369.90 446.30,369.90 447.80,348.10 454.30,348.10 455.50,337.20 465.00,337.20 467.00,315.20 608.60,314.90 609.70,308.90 610.80,298.10 611.90,289.50 613.40,280.90 614.70,267.90 616.20,262.50 618.30,261.20 639.90,261.20 641.00,276.60 642.50,289.50 644.60,301.30 646.00,306.00" fill="none" stroke="#000" stroke-width="2.1" stroke-linejoin="round" clip-path="url(#cD)"/>
<polyline points="420.00,407.00 423.00,358.90 439.00,358.90 440.50,342.40 446.30,342.40 446.50,310.00 453.40,310.00 455.00,293.80 465.00,293.80 467.00,261.30 608.60,261.30 609.70,267.90 610.80,276.60 611.90,285.20 612.90,289.50 614.00,304.60 615.10,312.10 617.20,314.90 639.90,315.00 640.50,334.70 642.00,338.00 644.20,345.50 646.00,349.00" fill="none" stroke="#e00000" stroke-width="2.1" stroke-linejoin="round" clip-path="url(#cD)"/>
<line x1="417.00" y1="253.50" x2="646.00" y2="253.50" stroke="#606060" stroke-width="1"/>
<line x1="417.00" y1="424.50" x2="646.00" y2="424.50" stroke="#333" stroke-width="1"/>
<line x1="419.90" y1="253.50" x2="419.90" y2="424.50" stroke="#666" stroke-width="1"/>
<line x1="645.50" y1="253.50" x2="645.50" y2="425.00" stroke="#666" stroke-width="1"/>
<line x1="420.00" y1="424.50" x2="420.00" y2="427.50" stroke="#000" stroke-width="1"/>
<line x1="420.00" y1="253.50" x2="420.00" y2="256.50" stroke="#000" stroke-width="1"/>
<line x1="424.44" y1="424.50" x2="424.44" y2="426.20" stroke="#000" stroke-width="1"/>
<line x1="424.44" y1="253.50" x2="424.44" y2="255.20" stroke="#000" stroke-width="1"/>
<line x1="427.03" y1="424.50" x2="427.03" y2="426.20" stroke="#000" stroke-width="1"/>
<line x1="427.03" y1="253.50" x2="427.03" y2="255.20" stroke="#000" stroke-width="1"/>
<line x1="428.87" y1="424.50" x2="428.87" y2="426.20" stroke="#000" stroke-width="1"/>
<line x1="428.87" y1="253.50" x2="428.87" y2="255.20" stroke="#000" stroke-width="1"/>
<line x1="430.30" y1="424.50" x2="430.30" y2="426.20" stroke="#000" stroke-width="1"/>
<line x1="430.30" y1="253.50" x2="430.30" y2="255.20" stroke="#000" stroke-width="1"/>
<line x1="431.47" y1="424.50" x2="431.47" y2="426.20" stroke="#000" stroke-width="1"/>
<line x1="431.47" y1="253.50" x2="431.47" y2="255.20" stroke="#000" stroke-width="1"/>
<line x1="432.45" y1="424.50" x2="432.45" y2="426.20" stroke="#000" stroke-width="1"/>
<line x1="432.45" y1="253.50" x2="432.45" y2="255.20" stroke="#000" stroke-width="1"/>
<line x1="433.31" y1="424.50" x2="433.31" y2="426.20" stroke="#000" stroke-width="1"/>
<line x1="433.31" y1="253.50" x2="433.31" y2="255.20" stroke="#000" stroke-width="1"/>
<line x1="434.06" y1="424.50" x2="434.06" y2="426.20" stroke="#000" stroke-width="1"/>
<line x1="434.06" y1="253.50" x2="434.06" y2="255.20" stroke="#000" stroke-width="1"/>
<line x1="434.74" y1="424.50" x2="434.74" y2="427.50" stroke="#000" stroke-width="1"/>
<line x1="434.74" y1="253.50" x2="434.74" y2="256.50" stroke="#000" stroke-width="1"/>
<line x1="439.17" y1="424.50" x2="439.17" y2="426.20" stroke="#000" stroke-width="1"/>
<line x1="439.17" y1="253.50" x2="439.17" y2="255.20" stroke="#000" stroke-width="1"/>
<line x1="441.77" y1="424.50" x2="441.77" y2="426.20" stroke="#000" stroke-width="1"/>
<line x1="441.77" y1="253.50" x2="441.77" y2="255.20" stroke="#000" stroke-width="1"/>
<line x1="443.61" y1="424.50" x2="443.61" y2="426.20" stroke="#000" stroke-width="1"/>
<line x1="443.61" y1="253.50" x2="443.61" y2="255.20" stroke="#000" stroke-width="1"/>
<line x1="445.04" y1="424.50" x2="445.04" y2="426.20" stroke="#000" stroke-width="1"/>
<line x1="445.04" y1="253.50" x2="445.04" y2="255.20" stroke="#000" stroke-width="1"/>
<line x1="446.21" y1="424.50" x2="446.21" y2="426.20" stroke="#000" stroke-width="1"/>
<line x1="446.21" y1="253.50" x2="446.21" y2="255.20" stroke="#000" stroke-width="1"/>
<line x1="447.19" y1="424.50" x2="447.19" y2="426.20" stroke="#000" stroke-width="1"/>
<line x1="447.19" y1="253.50" x2="447.19" y2="255.20" stroke="#000" stroke-width="1"/>
<line x1="448.05" y1="424.50" x2="448.05" y2="426.20" stroke="#000" stroke-width="1"/>
<line x1="448.05" y1="253.50" x2="448.05" y2="255.20" stroke="#000" stroke-width="1"/>
<line x1="448.80" y1="424.50" x2="448.80" y2="426.20" stroke="#000" stroke-width="1"/>
<line x1="448.80" y1="253.50" x2="448.80" y2="255.20" stroke="#000" stroke-width="1"/>
<line x1="449.48" y1="424.50" x2="449.48" y2="427.50" stroke="#000" stroke-width="1"/>
<line x1="449.48" y1="253.50" x2="449.48" y2="256.50" stroke="#000" stroke-width="1"/>
<line x1="453.91" y1="424.50" x2="453.91" y2="426.20" stroke="#000" stroke-width="1"/>
<line x1="453.91" y1="253.50" x2="453.91" y2="255.20" stroke="#000" stroke-width="1"/>
<line x1="456.51" y1="424.50" x2="456.51" y2="426.20" stroke="#000" stroke-width="1"/>
<line x1="456.51" y1="253.50" x2="456.51" y2="255.20" stroke="#000" stroke-width="1"/>
<line x1="458.35" y1="424.50" x2="458.35" y2="426.20" stroke="#000" stroke-width="1"/>
<line x1="458.35" y1="253.50" x2="458.35" y2="255.20" stroke="#000" stroke-width="1"/>
<line x1="459.78" y1="424.50" x2="459.78" y2="426.20" stroke="#000" stroke-width="1"/>
<line x1="459.78" y1="253.50" x2="459.78" y2="255.20" stroke="#000" stroke-width="1"/>
<line x1="460.94" y1="424.50" x2="460.94" y2="426.20" stroke="#000" stroke-width="1"/>
<line x1="460.94" y1="253.50" x2="460.94" y2="255.20" stroke="#000" stroke-width="1"/>
<line x1="461.93" y1="424.50" x2="461.93" y2="426.20" stroke="#000" stroke-width="1"/>
<line x1="461.93" y1="253.50" x2="461.93" y2="255.20" stroke="#000" stroke-width="1"/>
<line x1="462.78" y1="424.50" x2="462.78" y2="426.20" stroke="#000" stroke-width="1"/>
<line x1="462.78" y1="253.50" x2="462.78" y2="255.20" stroke="#000" stroke-width="1"/>
<line x1="463.54" y1="424.50" x2="463.54" y2="426.20" stroke="#000" stroke-width="1"/>
<line x1="463.54" y1="253.50" x2="463.54" y2="255.20" stroke="#000" stroke-width="1"/>
<line x1="464.21" y1="424.50" x2="464.21" y2="427.50" stroke="#000" stroke-width="1"/>
<line x1="464.21" y1="253.50" x2="464.21" y2="256.50" stroke="#000" stroke-width="1"/>
<line x1="468.65" y1="424.50" x2="468.65" y2="426.20" stroke="#000" stroke-width="1"/>
<line x1="468.65" y1="253.50" x2="468.65" y2="255.20" stroke="#000" stroke-width="1"/>
<line x1="471.24" y1="424.50" x2="471.24" y2="426.20" stroke="#000" stroke-width="1"/>
<line x1="471.24" y1="253.50" x2="471.24" y2="255.20" stroke="#000" stroke-width="1"/>
<line x1="473.09" y1="424.50" x2="473.09" y2="426.20" stroke="#000" stroke-width="1"/>
<line x1="473.09" y1="253.50" x2="473.09" y2="255.20" stroke="#000" stroke-width="1"/>
<line x1="474.51" y1="424.50" x2="474.51" y2="426.20" stroke="#000" stroke-width="1"/>
<line x1="474.51" y1="253.50" x2="474.51" y2="255.20" stroke="#000" stroke-width="1"/>
<line x1="475.68" y1="424.50" x2="475.68" y2="426.20" stroke="#000" stroke-width="1"/>
<line x1="475.68" y1="253.50" x2="475.68" y2="255.20" stroke="#000" stroke-width="1"/>
<line x1="476.67" y1="424.50" x2="476.67" y2="426.20" stroke="#000" stroke-width="1"/>
<line x1="476.67" y1="253.50" x2="476.67" y2="255.20" stroke="#000" stroke-width="1"/>
<line x1="477.52" y1="424.50" x2="477.52" y2="426.20" stroke="#000" stroke-width="1"/>
<line x1="477.52" y1="253.50" x2="477.52" y2="255.20" stroke="#000" stroke-width="1"/>
<line x1="478.28" y1="424.50" x2="478.28" y2="426.20" stroke="#000" stroke-width="1"/>
<line x1="478.28" y1="253.50" x2="478.28" y2="255.20" stroke="#000" stroke-width="1"/>
<line x1="478.95" y1="424.50" x2="478.95" y2="427.50" stroke="#000" stroke-width="1"/>
<line x1="478.95" y1="253.50" x2="478.95" y2="256.50" stroke="#000" stroke-width="1"/>
<line x1="483.39" y1="424.50" x2="483.39" y2="426.20" stroke="#000" stroke-width="1"/>
<line x1="483.39" y1="253.50" x2="483.39" y2="255.20" stroke="#000" stroke-width="1"/>
<line x1="485.98" y1="424.50" x2="485.98" y2="426.20" stroke="#000" stroke-width="1"/>
<line x1="485.98" y1="253.50" x2="485.98" y2="255.20" stroke="#000" stroke-width="1"/>
<line x1="487.82" y1="424.50" x2="487.82" y2="426.20" stroke="#000" stroke-width="1"/>
<line x1="487.82" y1="253.50" x2="487.82" y2="255.20" stroke="#000" stroke-width="1"/>
<line x1="489.25" y1="424.50" x2="489.25" y2="426.20" stroke="#000" stroke-width="1"/>
<line x1="489.25" y1="253.50" x2="489.25" y2="255.20" stroke="#000" stroke-width="1"/>
<line x1="490.42" y1="424.50" x2="490.42" y2="426.20" stroke="#000" stroke-width="1"/>
<line x1="490.42" y1="253.50" x2="490.42" y2="255.20" stroke="#000" stroke-width="1"/>
<line x1="491.40" y1="424.50" x2="491.40" y2="426.20" stroke="#000" stroke-width="1"/>
<line x1="491.40" y1="253.50" x2="491.40" y2="255.20" stroke="#000" stroke-width="1"/>
<line x1="492.26" y1="424.50" x2="492.26" y2="426.20" stroke="#000" stroke-width="1"/>
<line x1="492.26" y1="253.50" x2="492.26" y2="255.20" stroke="#000" stroke-width="1"/>
<line x1="493.01" y1="424.50" x2="493.01" y2="426.20" stroke="#000" stroke-width="1"/>
<line x1="493.01" y1="253.50" x2="493.01" y2="255.20" stroke="#000" stroke-width="1"/>
<line x1="493.69" y1="424.50" x2="493.69" y2="427.50" stroke="#000" stroke-width="1"/>
<line x1="493.69" y1="253.50" x2="493.69" y2="256.50" stroke="#000" stroke-width="1"/>
<line x1="498.12" y1="424.50" x2="498.12" y2="426.20" stroke="#000" stroke-width="1"/>
<line x1="498.12" y1="253.50" x2="498.12" y2="255.20" stroke="#000" stroke-width="1"/>
<line x1="500.72" y1="424.50" x2="500.72" y2="426.20" stroke="#000" stroke-width="1"/>
<line x1="500.72" y1="253.50" x2="500.72" y2="255.20" stroke="#000" stroke-width="1"/>
<line x1="502.56" y1="424.50" x2="502.56" y2="426.20" stroke="#000" stroke-width="1"/>
<line x1="502.56" y1="253.50" x2="502.56" y2="255.20" stroke="#000" stroke-width="1"/>
<line x1="503.99" y1="424.50" x2="503.99" y2="426.20" stroke="#000" stroke-width="1"/>
<line x1="503.99" y1="253.50" x2="503.99" y2="255.20" stroke="#000" stroke-width="1"/>
<line x1="505.16" y1="424.50" x2="505.16" y2="426.20" stroke="#000" stroke-width="1"/>
<line x1="505.16" y1="253.50" x2="505.16" y2="255.20" stroke="#000" stroke-width="1"/>
<line x1="506.14" y1="424.50" x2="506.14" y2="426.20" stroke="#000" stroke-width="1"/>
<line x1="506.14" y1="253.50" x2="506.14" y2="255.20" stroke="#000" stroke-width="1"/>
<line x1="507.00" y1="424.50" x2="507.00" y2="426.20" stroke="#000" stroke-width="1"/>
<line x1="507.00" y1="253.50" x2="507.00" y2="255.20" stroke="#000" stroke-width="1"/>
<line x1="507.75" y1="424.50" x2="507.75" y2="426.20" stroke="#000" stroke-width="1"/>
<line x1="507.75" y1="253.50" x2="507.75" y2="255.20" stroke="#000" stroke-width="1"/>
<line x1="508.43" y1="424.50" x2="508.43" y2="427.50" stroke="#000" stroke-width="1"/>
<line x1="508.43" y1="253.50" x2="508.43" y2="256.50" stroke="#000" stroke-width="1"/>
<line x1="512.86" y1="424.50" x2="512.86" y2="426.20" stroke="#000" stroke-width="1"/>
<line x1="512.86" y1="253.50" x2="512.86" y2="255.20" stroke="#000" stroke-width="1"/>
<line x1="515.46" y1="424.50" x2="515.46" y2="426.20" stroke="#000" stroke-width="1"/>
<line x1="515.46" y1="253.50" x2="515.46" y2="255.20" stroke="#000" stroke-width="1"/>
<line x1="517.30" y1="424.50" x2="517.30" y2="426.20" stroke="#000" stroke-width="1"/>
<line x1="517.30" y1="253.50" x2="517.30" y2="255.20" stroke="#000" stroke-width="1"/>
<line x1="518.73" y1="424.50" x2="518.73" y2="426.20" stroke="#000" stroke-width="1"/>
<line x1="518.73" y1="253.50" x2="518.73" y2="255.20" stroke="#000" stroke-width="1"/>
<line x1="519.89" y1="424.50" x2="519.89" y2="426.20" stroke="#000" stroke-width="1"/>
<line x1="519.89" y1="253.50" x2="519.89" y2="255.20" stroke="#000" stroke-width="1"/>
<line x1="520.88" y1="424.50" x2="520.88" y2="426.20" stroke="#000" stroke-width="1"/>
<line x1="520.88" y1="253.50" x2="520.88" y2="255.20" stroke="#000" stroke-width="1"/>
<line x1="521.73" y1="424.50" x2="521.73" y2="426.20" stroke="#000" stroke-width="1"/>
<line x1="521.73" y1="253.50" x2="521.73" y2="255.20" stroke="#000" stroke-width="1"/>
<line x1="522.49" y1="424.50" x2="522.49" y2="426.20" stroke="#000" stroke-width="1"/>
<line x1="522.49" y1="253.50" x2="522.49" y2="255.20" stroke="#000" stroke-width="1"/>
<line x1="523.16" y1="424.50" x2="523.16" y2="427.50" stroke="#000" stroke-width="1"/>
<line x1="523.16" y1="253.50" x2="523.16" y2="256.50" stroke="#000" stroke-width="1"/>
<line x1="527.60" y1="424.50" x2="527.60" y2="426.20" stroke="#000" stroke-width="1"/>
<line x1="527.60" y1="253.50" x2="527.60" y2="255.20" stroke="#000" stroke-width="1"/>
<line x1="530.19" y1="424.50" x2="530.19" y2="426.20" stroke="#000" stroke-width="1"/>
<line x1="530.19" y1="253.50" x2="530.19" y2="255.20" stroke="#000" stroke-width="1"/>
<line x1="532.04" y1="424.50" x2="532.04" y2="426.20" stroke="#000" stroke-width="1"/>
<line x1="532.04" y1="253.50" x2="532.04" y2="255.20" stroke="#000" stroke-width="1"/>
<line x1="533.46" y1="424.50" x2="533.46" y2="426.20" stroke="#000" stroke-width="1"/>
<line x1="533.46" y1="253.50" x2="533.46" y2="255.20" stroke="#000" stroke-width="1"/>
<line x1="534.63" y1="424.50" x2="534.63" y2="426.20" stroke="#000" stroke-width="1"/>
<line x1="534.63" y1="253.50" x2="534.63" y2="255.20" stroke="#000" stroke-width="1"/>
<line x1="535.62" y1="424.50" x2="535.62" y2="426.20" stroke="#000" stroke-width="1"/>
<line x1="535.62" y1="253.50" x2="535.62" y2="255.20" stroke="#000" stroke-width="1"/>
<line x1="536.47" y1="424.50" x2="536.47" y2="426.20" stroke="#000" stroke-width="1"/>
<line x1="536.47" y1="253.50" x2="536.47" y2="255.20" stroke="#000" stroke-width="1"/>
<line x1="537.23" y1="424.50" x2="537.23" y2="426.20" stroke="#000" stroke-width="1"/>
<line x1="537.23" y1="253.50" x2="537.23" y2="255.20" stroke="#000" stroke-width="1"/>
<line x1="537.90" y1="424.50" x2="537.90" y2="427.50" stroke="#000" stroke-width="1"/>
<line x1="537.90" y1="253.50" x2="537.90" y2="256.50" stroke="#000" stroke-width="1"/>
<line x1="542.34" y1="424.50" x2="542.34" y2="426.20" stroke="#000" stroke-width="1"/>
<line x1="542.34" y1="253.50" x2="542.34" y2="255.20" stroke="#000" stroke-width="1"/>
<line x1="544.93" y1="424.50" x2="544.93" y2="426.20" stroke="#000" stroke-width="1"/>
<line x1="544.93" y1="253.50" x2="544.93" y2="255.20" stroke="#000" stroke-width="1"/>
<line x1="546.77" y1="424.50" x2="546.77" y2="426.20" stroke="#000" stroke-width="1"/>
<line x1="546.77" y1="253.50" x2="546.77" y2="255.20" stroke="#000" stroke-width="1"/>
<line x1="548.20" y1="424.50" x2="548.20" y2="426.20" stroke="#000" stroke-width="1"/>
<line x1="548.20" y1="253.50" x2="548.20" y2="255.20" stroke="#000" stroke-width="1"/>
<line x1="549.37" y1="424.50" x2="549.37" y2="426.20" stroke="#000" stroke-width="1"/>
<line x1="549.37" y1="253.50" x2="549.37" y2="255.20" stroke="#000" stroke-width="1"/>
<line x1="550.36" y1="424.50" x2="550.36" y2="426.20" stroke="#000" stroke-width="1"/>
<line x1="550.36" y1="253.50" x2="550.36" y2="255.20" stroke="#000" stroke-width="1"/>
<line x1="551.21" y1="424.50" x2="551.21" y2="426.20" stroke="#000" stroke-width="1"/>
<line x1="551.21" y1="253.50" x2="551.21" y2="255.20" stroke="#000" stroke-width="1"/>
<line x1="551.96" y1="424.50" x2="551.96" y2="426.20" stroke="#000" stroke-width="1"/>
<line x1="551.96" y1="253.50" x2="551.96" y2="255.20" stroke="#000" stroke-width="1"/>
<line x1="552.64" y1="424.50" x2="552.64" y2="427.50" stroke="#000" stroke-width="1"/>
<line x1="552.64" y1="253.50" x2="552.64" y2="256.50" stroke="#000" stroke-width="1"/>
<line x1="557.07" y1="424.50" x2="557.07" y2="426.20" stroke="#000" stroke-width="1"/>
<line x1="557.07" y1="253.50" x2="557.07" y2="255.20" stroke="#000" stroke-width="1"/>
<line x1="559.67" y1="424.50" x2="559.67" y2="426.20" stroke="#000" stroke-width="1"/>
<line x1="559.67" y1="253.50" x2="559.67" y2="255.20" stroke="#000" stroke-width="1"/>
<line x1="561.51" y1="424.50" x2="561.51" y2="426.20" stroke="#000" stroke-width="1"/>
<line x1="561.51" y1="253.50" x2="561.51" y2="255.20" stroke="#000" stroke-width="1"/>
<line x1="562.94" y1="424.50" x2="562.94" y2="426.20" stroke="#000" stroke-width="1"/>
<line x1="562.94" y1="253.50" x2="562.94" y2="255.20" stroke="#000" stroke-width="1"/>
<line x1="564.11" y1="424.50" x2="564.11" y2="426.20" stroke="#000" stroke-width="1"/>
<line x1="564.11" y1="253.50" x2="564.11" y2="255.20" stroke="#000" stroke-width="1"/>
<line x1="565.09" y1="424.50" x2="565.09" y2="426.20" stroke="#000" stroke-width="1"/>
<line x1="565.09" y1="253.50" x2="565.09" y2="255.20" stroke="#000" stroke-width="1"/>
<line x1="565.95" y1="424.50" x2="565.95" y2="426.20" stroke="#000" stroke-width="1"/>
<line x1="565.95" y1="253.50" x2="565.95" y2="255.20" stroke="#000" stroke-width="1"/>
<line x1="566.70" y1="424.50" x2="566.70" y2="426.20" stroke="#000" stroke-width="1"/>
<line x1="566.70" y1="253.50" x2="566.70" y2="255.20" stroke="#000" stroke-width="1"/>
<line x1="567.38" y1="424.50" x2="567.38" y2="427.50" stroke="#000" stroke-width="1"/>
<line x1="567.38" y1="253.50" x2="567.38" y2="256.50" stroke="#000" stroke-width="1"/>
<line x1="571.81" y1="424.50" x2="571.81" y2="426.20" stroke="#000" stroke-width="1"/>
<line x1="571.81" y1="253.50" x2="571.81" y2="255.20" stroke="#000" stroke-width="1"/>
<line x1="574.41" y1="424.50" x2="574.41" y2="426.20" stroke="#000" stroke-width="1"/>
<line x1="574.41" y1="253.50" x2="574.41" y2="255.20" stroke="#000" stroke-width="1"/>
<line x1="576.25" y1="424.50" x2="576.25" y2="426.20" stroke="#000" stroke-width="1"/>
<line x1="576.25" y1="253.50" x2="576.25" y2="255.20" stroke="#000" stroke-width="1"/>
<line x1="577.68" y1="424.50" x2="577.68" y2="426.20" stroke="#000" stroke-width="1"/>
<line x1="577.68" y1="253.50" x2="577.68" y2="255.20" stroke="#000" stroke-width="1"/>
<line x1="578.84" y1="424.50" x2="578.84" y2="426.20" stroke="#000" stroke-width="1"/>
<line x1="578.84" y1="253.50" x2="578.84" y2="255.20" stroke="#000" stroke-width="1"/>
<line x1="579.83" y1="424.50" x2="579.83" y2="426.20" stroke="#000" stroke-width="1"/>
<line x1="579.83" y1="253.50" x2="579.83" y2="255.20" stroke="#000" stroke-width="1"/>
<line x1="580.69" y1="424.50" x2="580.69" y2="426.20" stroke="#000" stroke-width="1"/>
<line x1="580.69" y1="253.50" x2="580.69" y2="255.20" stroke="#000" stroke-width="1"/>
<line x1="581.44" y1="424.50" x2="581.44" y2="426.20" stroke="#000" stroke-width="1"/>
<line x1="581.44" y1="253.50" x2="581.44" y2="255.20" stroke="#000" stroke-width="1"/>
<line x1="582.11" y1="424.50" x2="582.11" y2="427.50" stroke="#000" stroke-width="1"/>
<line x1="582.11" y1="253.50" x2="582.11" y2="256.50" stroke="#000" stroke-width="1"/>
<line x1="586.55" y1="424.50" x2="586.55" y2="426.20" stroke="#000" stroke-width="1"/>
<line x1="586.55" y1="253.50" x2="586.55" y2="255.20" stroke="#000" stroke-width="1"/>
<line x1="589.14" y1="424.50" x2="589.14" y2="426.20" stroke="#000" stroke-width="1"/>
<line x1="589.14" y1="253.50" x2="589.14" y2="255.20" stroke="#000" stroke-width="1"/>
<line x1="590.99" y1="424.50" x2="590.99" y2="426.20" stroke="#000" stroke-width="1"/>
<line x1="590.99" y1="253.50" x2="590.99" y2="255.20" stroke="#000" stroke-width="1"/>
<line x1="592.41" y1="424.50" x2="592.41" y2="426.20" stroke="#000" stroke-width="1"/>
<line x1="592.41" y1="253.50" x2="592.41" y2="255.20" stroke="#000" stroke-width="1"/>
<line x1="593.58" y1="424.50" x2="593.58" y2="426.20" stroke="#000" stroke-width="1"/>
<line x1="593.58" y1="253.50" x2="593.58" y2="255.20" stroke="#000" stroke-width="1"/>
<line x1="594.57" y1="424.50" x2="594.57" y2="426.20" stroke="#000" stroke-width="1"/>
<line x1="594.57" y1="253.50" x2="594.57" y2="255.20" stroke="#000" stroke-width="1"/>
<line x1="595.42" y1="424.50" x2="595.42" y2="426.20" stroke="#000" stroke-width="1"/>
<line x1="595.42" y1="253.50" x2="595.42" y2="255.20" stroke="#000" stroke-width="1"/>
<line x1="596.18" y1="424.50" x2="596.18" y2="426.20" stroke="#000" stroke-width="1"/>
<line x1="596.18" y1="253.50" x2="596.18" y2="255.20" stroke="#000" stroke-width="1"/>
<line x1="596.85" y1="424.50" x2="596.85" y2="427.50" stroke="#000" stroke-width="1"/>
<line x1="596.85" y1="253.50" x2="596.85" y2="256.50" stroke="#000" stroke-width="1"/>
<line x1="601.29" y1="424.50" x2="601.29" y2="426.20" stroke="#000" stroke-width="1"/>
<line x1="601.29" y1="253.50" x2="601.29" y2="255.20" stroke="#000" stroke-width="1"/>
<line x1="603.88" y1="424.50" x2="603.88" y2="426.20" stroke="#000" stroke-width="1"/>
<line x1="603.88" y1="253.50" x2="603.88" y2="255.20" stroke="#000" stroke-width="1"/>
<line x1="605.72" y1="424.50" x2="605.72" y2="426.20" stroke="#000" stroke-width="1"/>
<line x1="605.72" y1="253.50" x2="605.72" y2="255.20" stroke="#000" stroke-width="1"/>
<line x1="607.15" y1="424.50" x2="607.15" y2="426.20" stroke="#000" stroke-width="1"/>
<line x1="607.15" y1="253.50" x2="607.15" y2="255.20" stroke="#000" stroke-width="1"/>
<line x1="608.32" y1="424.50" x2="608.32" y2="426.20" stroke="#000" stroke-width="1"/>
<line x1="608.32" y1="253.50" x2="608.32" y2="255.20" stroke="#000" stroke-width="1"/>
<line x1="609.31" y1="424.50" x2="609.31" y2="426.20" stroke="#000" stroke-width="1"/>
<line x1="609.31" y1="253.50" x2="609.31" y2="255.20" stroke="#000" stroke-width="1"/>
<line x1="610.16" y1="424.50" x2="610.16" y2="426.20" stroke="#000" stroke-width="1"/>
<line x1="610.16" y1="253.50" x2="610.16" y2="255.20" stroke="#000" stroke-width="1"/>
<line x1="610.91" y1="424.50" x2="610.91" y2="426.20" stroke="#000" stroke-width="1"/>
<line x1="610.91" y1="253.50" x2="610.91" y2="255.20" stroke="#000" stroke-width="1"/>
<line x1="611.59" y1="424.50" x2="611.59" y2="427.50" stroke="#000" stroke-width="1"/>
<line x1="611.59" y1="253.50" x2="611.59" y2="256.50" stroke="#000" stroke-width="1"/>
<line x1="616.02" y1="424.50" x2="616.02" y2="426.20" stroke="#000" stroke-width="1"/>
<line x1="616.02" y1="253.50" x2="616.02" y2="255.20" stroke="#000" stroke-width="1"/>
<line x1="618.62" y1="424.50" x2="618.62" y2="426.20" stroke="#000" stroke-width="1"/>
<line x1="618.62" y1="253.50" x2="618.62" y2="255.20" stroke="#000" stroke-width="1"/>
<line x1="620.46" y1="424.50" x2="620.46" y2="426.20" stroke="#000" stroke-width="1"/>
<line x1="620.46" y1="253.50" x2="620.46" y2="255.20" stroke="#000" stroke-width="1"/>
<line x1="621.89" y1="424.50" x2="621.89" y2="426.20" stroke="#000" stroke-width="1"/>
<line x1="621.89" y1="253.50" x2="621.89" y2="255.20" stroke="#000" stroke-width="1"/>
<line x1="623.06" y1="424.50" x2="623.06" y2="426.20" stroke="#000" stroke-width="1"/>
<line x1="623.06" y1="253.50" x2="623.06" y2="255.20" stroke="#000" stroke-width="1"/>
<line x1="624.04" y1="424.50" x2="624.04" y2="426.20" stroke="#000" stroke-width="1"/>
<line x1="624.04" y1="253.50" x2="624.04" y2="255.20" stroke="#000" stroke-width="1"/>
<line x1="624.90" y1="424.50" x2="624.90" y2="426.20" stroke="#000" stroke-width="1"/>
<line x1="624.90" y1="253.50" x2="624.90" y2="255.20" stroke="#000" stroke-width="1"/>
<line x1="625.65" y1="424.50" x2="625.65" y2="426.20" stroke="#000" stroke-width="1"/>
<line x1="625.65" y1="253.50" x2="625.65" y2="255.20" stroke="#000" stroke-width="1"/>
<line x1="626.33" y1="424.50" x2="626.33" y2="427.50" stroke="#000" stroke-width="1"/>
<line x1="626.33" y1="253.50" x2="626.33" y2="256.50" stroke="#000" stroke-width="1"/>
<line x1="630.76" y1="424.50" x2="630.76" y2="426.20" stroke="#000" stroke-width="1"/>
<line x1="630.76" y1="253.50" x2="630.76" y2="255.20" stroke="#000" stroke-width="1"/>
<line x1="633.36" y1="424.50" x2="633.36" y2="426.20" stroke="#000" stroke-width="1"/>
<line x1="633.36" y1="253.50" x2="633.36" y2="255.20" stroke="#000" stroke-width="1"/>
<line x1="635.20" y1="424.50" x2="635.20" y2="426.20" stroke="#000" stroke-width="1"/>
<line x1="635.20" y1="253.50" x2="635.20" y2="255.20" stroke="#000" stroke-width="1"/>
<line x1="636.63" y1="424.50" x2="636.63" y2="426.20" stroke="#000" stroke-width="1"/>
<line x1="636.63" y1="253.50" x2="636.63" y2="255.20" stroke="#000" stroke-width="1"/>
<line x1="637.79" y1="424.50" x2="637.79" y2="426.20" stroke="#000" stroke-width="1"/>
<line x1="637.79" y1="253.50" x2="637.79" y2="255.20" stroke="#000" stroke-width="1"/>
<line x1="638.78" y1="424.50" x2="638.78" y2="426.20" stroke="#000" stroke-width="1"/>
<line x1="638.78" y1="253.50" x2="638.78" y2="255.20" stroke="#000" stroke-width="1"/>
<line x1="639.64" y1="424.50" x2="639.64" y2="426.20" stroke="#000" stroke-width="1"/>
<line x1="639.64" y1="253.50" x2="639.64" y2="255.20" stroke="#000" stroke-width="1"/>
<line x1="640.39" y1="424.50" x2="640.39" y2="426.20" stroke="#000" stroke-width="1"/>
<line x1="640.39" y1="253.50" x2="640.39" y2="255.20" stroke="#000" stroke-width="1"/>
<line x1="641.06" y1="424.50" x2="641.06" y2="427.50" stroke="#000" stroke-width="1"/>
<line x1="641.06" y1="253.50" x2="641.06" y2="256.50" stroke="#000" stroke-width="1"/>
<line x1="645.50" y1="424.50" x2="645.50" y2="426.20" stroke="#000" stroke-width="1"/>
<line x1="645.50" y1="253.50" x2="645.50" y2="255.20" stroke="#000" stroke-width="1"/>
<line x1="417.00" y1="424.50" x2="420.00" y2="424.50" stroke="#000" stroke-width="1"/>
<line x1="418.30" y1="381.75" x2="420.00" y2="381.75" stroke="#000" stroke-width="1"/>
<line x1="417.00" y1="339.00" x2="420.00" y2="339.00" stroke="#000" stroke-width="1"/>
<line x1="418.30" y1="296.25" x2="420.00" y2="296.25" stroke="#000" stroke-width="1"/>
<line x1="417.00" y1="253.50" x2="420.00" y2="253.50" stroke="#000" stroke-width="1"/>
<line x1="642.50" y1="424.50" x2="645.50" y2="424.50" stroke="#000" stroke-width="1"/>
<line x1="643.80" y1="408.21" x2="645.50" y2="408.21" stroke="#000" stroke-width="1"/>
<line x1="642.50" y1="391.93" x2="645.50" y2="391.93" stroke="#000" stroke-width="1"/>
<line x1="643.80" y1="375.64" x2="645.50" y2="375.64" stroke="#000" stroke-width="1"/>
<line x1="642.50" y1="359.36" x2="645.50" y2="359.36" stroke="#000" stroke-width="1"/>
<line x1="643.80" y1="343.07" x2="645.50" y2="343.07" stroke="#000" stroke-width="1"/>
<line x1="642.50" y1="326.79" x2="645.50" y2="326.79" stroke="#000" stroke-width="1"/>
<line x1="643.80" y1="310.50" x2="645.50" y2="310.50" stroke="#000" stroke-width="1"/>
<line x1="642.50" y1="294.21" x2="645.50" y2="294.21" stroke="#000" stroke-width="1"/>
<line x1="643.80" y1="277.93" x2="645.50" y2="277.93" stroke="#000" stroke-width="1"/>
<line x1="642.50" y1="261.64" x2="645.50" y2="261.64" stroke="#000" stroke-width="1"/>
<text x="420.00" y="446.20" font-size="17" text-anchor="middle">10<tspan font-size="11" dy="-8.1">-14</tspan></text>
<text x="464.21" y="446.20" font-size="17" text-anchor="middle">10<tspan font-size="11" dy="-8.1">-11</tspan></text>
<text x="508.43" y="446.20" font-size="17" text-anchor="middle">10<tspan font-size="11" dy="-8.1">-8</tspan></text>
<text x="552.64" y="446.20" font-size="17" text-anchor="middle">10<tspan font-size="11" dy="-8.1">-5</tspan></text>
<text x="596.85" y="446.20" font-size="17" text-anchor="middle">10<tspan font-size="11" dy="-8.1">-2</tspan></text>
<text x="641.06" y="446.20" font-size="17" text-anchor="middle">10<tspan font-size="11" dy="-8.1">1</tspan></text>
<text x="414.50" y="429.30" font-size="17" text-anchor="end" fill="#000" >0</text>
<text x="414.50" y="343.80" font-size="17" text-anchor="end" fill="#000" >20</text>
<text x="414.50" y="258.30" font-size="17" text-anchor="end" fill="#000" >40</text>
<text x="648.50" y="429.30" font-size="17" text-anchor="start" fill="#000" >0.0</text>
<text x="648.50" y="396.73" font-size="17" text-anchor="start" fill="#000" >0.2</text>
<text x="648.50" y="364.16" font-size="17" text-anchor="start" fill="#000" >0.4</text>
<text x="648.50" y="331.59" font-size="17" text-anchor="start" fill="#000" >0.6</text>
<text x="648.50" y="299.01" font-size="17" text-anchor="start" fill="#000" >0.8</text>
<text x="648.50" y="266.44" font-size="17" text-anchor="start" fill="#000" >1.0</text>
<g transform="translate(370.05,244.00)"><polygon points="168.3,206.5 169.3,207.2 162.2,217.8 161.2,219.2 159.9,219.0 160.2,217.5" fill="#000"/><path d="M159.8,209.3 C160.3,207.2 161.8,206.3 162.6,207.5 C163.3,208.8 163.6,211 163.8,213.5" stroke="#000" stroke-width="1.1" fill="none"/></g>
<text transform="translate(394.00,339.45) rotate(-90)" font-size="18" text-anchor="middle">Nc</text>
<text transform="translate(685.80,339.85) rotate(-90)" font-size="18" text-anchor="middle">NMI</text>
<text x="368.30" y="256.80" font-size="29.5" text-anchor="start" fill="#000" >D</text>
<text x="573.00" y="419.00" font-size="12" transform="matrix(1 0 0 1.1100 0 -46.090)"><tspan font-style="italic">k</tspan><tspan font-size="8.5" dy="3.5">in0</tspan><tspan dy="-3.5" class="eq">=</tspan><tspan>12, </tspan><tspan font-style="italic">k</tspan><tspan font-size="8.5" dy="3.5">in1</tspan><tspan dy="-3.5" class="eq">=</tspan><tspan>5</tspan></text>
<text x="533.30" y="373.80" font-size="13" text-anchor="middle" fill="#e0158c" class="mag">P2</text>
<line x1="533.30" y1="378.00" x2="533.30" y2="396.20" stroke="#e00000" stroke-width="2.05"/>
<polygon points="533.30,406.00 530.00,395.20 533.30,396.20 536.60,395.20" fill="#e00000"/>
<text x="629.00" y="397.50" font-size="13" text-anchor="middle" fill="#000" >P1</text>
<line x1="629.00" y1="385.50" x2="629.00" y2="366.00" stroke="#000" stroke-width="2.05"/>
<polygon points="629.00,356.20 632.30,367.00 629.00,366.00 625.70,367.00" fill="#000"/>
<line x1="81.00" y1="73.10" x2="109.40" y2="73.10" stroke="#000" stroke-width="2"/>
<text x="113.00" y="77.60" font-size="12.5" text-anchor="start" fill="#000" >NMI-1</text>
<line x1="81.00" y1="88.80" x2="109.40" y2="88.80" stroke="#e00000" stroke-width="2"/>
<text x="113.00" y="93.30" font-size="12.5" text-anchor="start" fill="#000" >NMI-2</text>
<line x1="81.00" y1="104.50" x2="109.40" y2="104.50" stroke="#0000ff" stroke-width="2"/>
<text x="113.00" y="109.00" font-size="12.5" text-anchor="start" fill="#000" >Nc</text>
</svg></div></body></html>
